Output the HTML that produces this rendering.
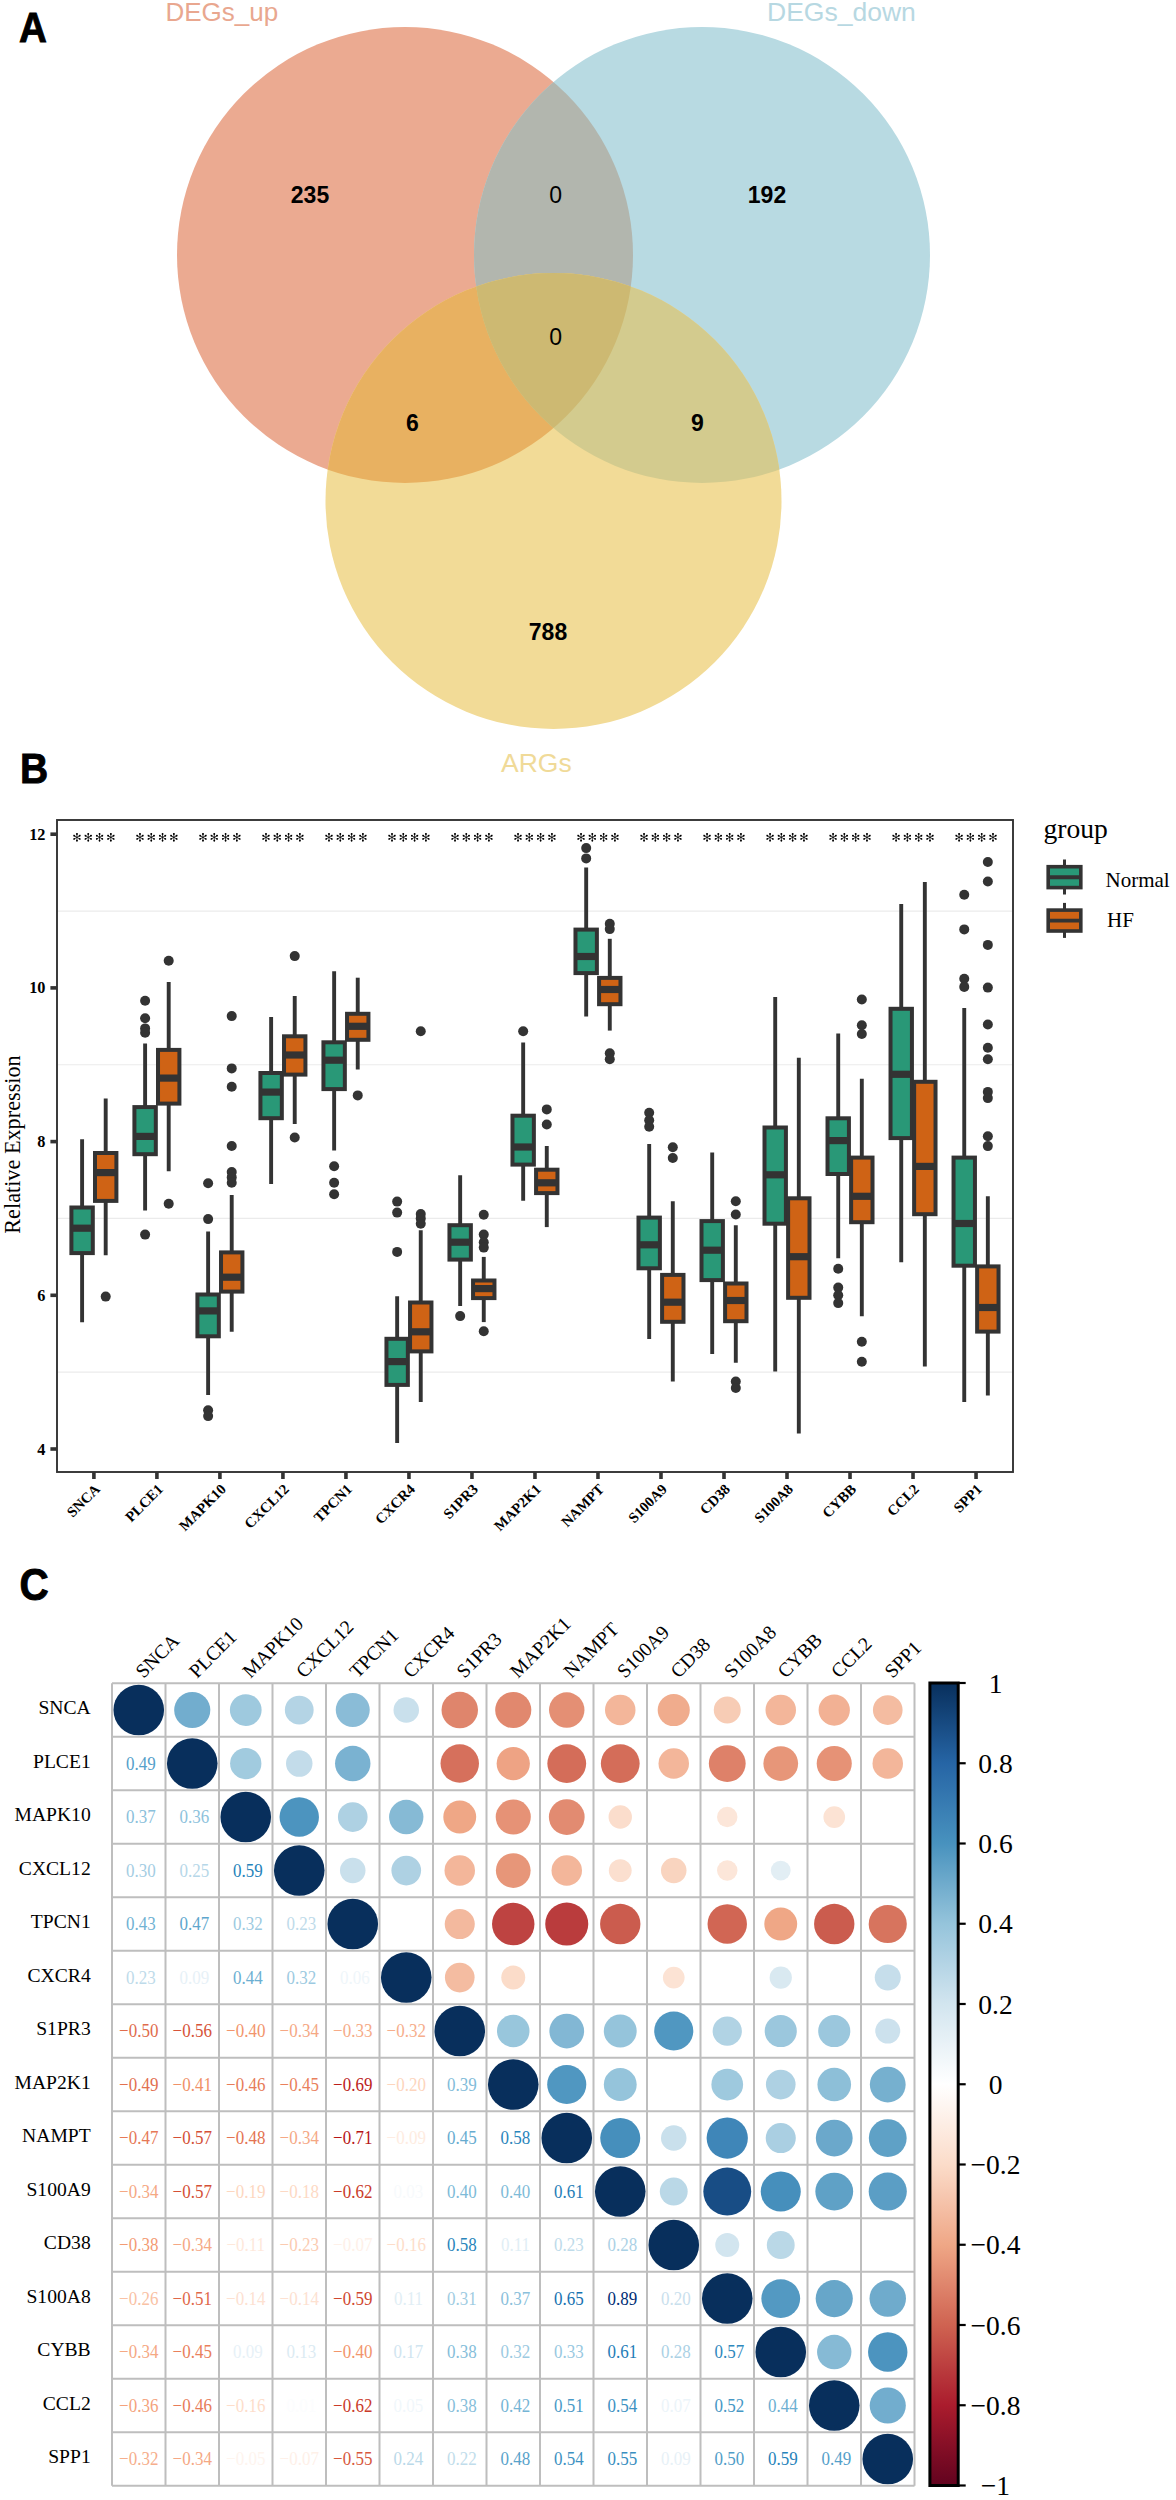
<!DOCTYPE html>
<html><head><meta charset="utf-8"><style>html,body{margin:0;padding:0;background:#fff;}svg{display:block}</style></head>
<body><svg width="1176" height="2500" viewBox="0 0 1176 2500">
<rect width="1176" height="2500" fill="#fff"/>
<text transform="translate(19.0,42.4) scale(0.92,1)" font-family='"Liberation Sans", sans-serif' font-weight="bold" font-size="42" fill="#000" stroke="#000" stroke-width="0.9">A</text>
<defs><clipPath id="cS"><circle cx="405" cy="255" r="228"/></clipPath><clipPath id="cB"><circle cx="702" cy="255" r="228"/></clipPath></defs>
<circle cx="405" cy="255" r="228" fill="#EBAA91"/>
<circle cx="702" cy="255" r="228" fill="#B8DAE2"/>
<g clip-path="url(#cS)"><circle cx="702" cy="255" r="228" fill="#B2B6AE"/></g>
<circle cx="553.5" cy="501" r="228" fill="#F2DB97"/>
<g clip-path="url(#cS)"><circle cx="553.5" cy="501" r="228" fill="#E8B161"/></g>
<g clip-path="url(#cB)"><circle cx="553.5" cy="501" r="228" fill="#D3CB8E"/></g>
<g clip-path="url(#cS)"><g clip-path="url(#cB)"><circle cx="553.5" cy="501" r="228" fill="#CDB972"/></g></g>
<text x="165.5" y="21" font-family='"Liberation Sans", sans-serif' font-size="26" fill="#E9A78F">DEGs_up</text>
<text x="767" y="21.4" font-family='"Liberation Sans", sans-serif' font-size="26.5" fill="#B7D8E2">DEGs_down</text>
<text x="501" y="771.9" font-family='"Liberation Sans", sans-serif' font-size="26.5" fill="#F0DA98">ARGs</text>
<text x="310" y="203" text-anchor="middle" font-family='"Liberation Sans", sans-serif' font-weight="bold" font-size="23" fill="#000">235</text>
<text x="767" y="203" text-anchor="middle" font-family='"Liberation Sans", sans-serif' font-weight="bold" font-size="23" fill="#000">192</text>
<text x="555.6" y="202.8" text-anchor="middle" font-family='"Liberation Sans", sans-serif' font-weight="normal" font-size="23" fill="#000">0</text>
<text x="555.6" y="345.3" text-anchor="middle" font-family='"Liberation Sans", sans-serif' font-weight="normal" font-size="23" fill="#000">0</text>
<text x="412.5" y="431" text-anchor="middle" font-family='"Liberation Sans", sans-serif' font-weight="bold" font-size="23" fill="#000">6</text>
<text x="697.5" y="431" text-anchor="middle" font-family='"Liberation Sans", sans-serif' font-weight="bold" font-size="23" fill="#000">9</text>
<text x="548" y="640" text-anchor="middle" font-family='"Liberation Sans", sans-serif' font-weight="bold" font-size="23" fill="#000">788</text>
<text transform="translate(20.0,782.6) scale(0.93,1)" font-family='"Liberation Sans", sans-serif' font-weight="bold" font-size="42" fill="#000" stroke="#000" stroke-width="0.9">B</text>
<rect x="57" y="820" width="956" height="652" fill="#fff"/>
<line x1="57" x2="1013" y1="911.05" y2="911.05" stroke="#EBEBEB" stroke-width="1.2"/>
<line x1="57" x2="1013" y1="1064.75" y2="1064.75" stroke="#EBEBEB" stroke-width="1.2"/>
<line x1="57" x2="1013" y1="1218.45" y2="1218.45" stroke="#EBEBEB" stroke-width="1.2"/>
<line x1="57" x2="1013" y1="1372.15" y2="1372.15" stroke="#EBEBEB" stroke-width="1.2"/>
<line x1="82.10" x2="82.10" y1="1139.2" y2="1322.2" stroke="#333333" stroke-width="3.9"/>
<rect x="71.40" y="1207.50" width="21.4" height="45.60" fill="#299877" stroke="#333333" stroke-width="4.0"/>
<line x1="71.40" x2="92.80" y1="1228.2" y2="1228.2" stroke="#333333" stroke-width="7.2"/>
<line x1="105.70" x2="105.70" y1="1098.4" y2="1255.2" stroke="#333333" stroke-width="3.9"/>
<rect x="95.00" y="1153.00" width="21.4" height="47.90" fill="#CF6315" stroke="#333333" stroke-width="4.0"/>
<line x1="95.00" x2="116.40" y1="1172.6" y2="1172.6" stroke="#333333" stroke-width="7.2"/>
<circle cx="105.70" cy="1296.6" r="5" fill="#333333"/>
<g transform="translate(76.95,837.3)" fill="#000"><path d="M-0.00 4.30L0.00 -4.30M-3.55 2.05L3.55 -2.05M3.55 2.05L-3.55 -2.05" stroke="#000" stroke-width="0.75" fill="none"/><circle cx="0.00" cy="-3.30" r="0.95"/><circle cx="-0.00" cy="3.30" r="0.95"/><circle cx="2.68" cy="-1.55" r="0.95"/><circle cx="-2.68" cy="1.55" r="0.95"/><circle cx="-2.68" cy="-1.55" r="0.95"/><circle cx="2.68" cy="1.55" r="0.95"/></g>
<g transform="translate(88.25,837.3)" fill="#000"><path d="M-0.00 4.30L0.00 -4.30M-3.55 2.05L3.55 -2.05M3.55 2.05L-3.55 -2.05" stroke="#000" stroke-width="0.75" fill="none"/><circle cx="0.00" cy="-3.30" r="0.95"/><circle cx="-0.00" cy="3.30" r="0.95"/><circle cx="2.68" cy="-1.55" r="0.95"/><circle cx="-2.68" cy="1.55" r="0.95"/><circle cx="-2.68" cy="-1.55" r="0.95"/><circle cx="2.68" cy="1.55" r="0.95"/></g>
<g transform="translate(99.55,837.3)" fill="#000"><path d="M-0.00 4.30L0.00 -4.30M-3.55 2.05L3.55 -2.05M3.55 2.05L-3.55 -2.05" stroke="#000" stroke-width="0.75" fill="none"/><circle cx="0.00" cy="-3.30" r="0.95"/><circle cx="-0.00" cy="3.30" r="0.95"/><circle cx="2.68" cy="-1.55" r="0.95"/><circle cx="-2.68" cy="1.55" r="0.95"/><circle cx="-2.68" cy="-1.55" r="0.95"/><circle cx="2.68" cy="1.55" r="0.95"/></g>
<g transform="translate(110.85,837.3)" fill="#000"><path d="M-0.00 4.30L0.00 -4.30M-3.55 2.05L3.55 -2.05M3.55 2.05L-3.55 -2.05" stroke="#000" stroke-width="0.75" fill="none"/><circle cx="0.00" cy="-3.30" r="0.95"/><circle cx="-0.00" cy="3.30" r="0.95"/><circle cx="2.68" cy="-1.55" r="0.95"/><circle cx="-2.68" cy="1.55" r="0.95"/><circle cx="-2.68" cy="-1.55" r="0.95"/><circle cx="2.68" cy="1.55" r="0.95"/></g>
<line x1="145.11" x2="145.11" y1="1043.5" y2="1210.4" stroke="#333333" stroke-width="3.9"/>
<rect x="134.41" y="1107.10" width="21.4" height="47.10" fill="#299877" stroke="#333333" stroke-width="4.0"/>
<line x1="134.41" x2="155.81" y1="1136.4" y2="1136.4" stroke="#333333" stroke-width="7.2"/>
<circle cx="145.11" cy="1000.8" r="5" fill="#333333"/>
<circle cx="145.11" cy="1018.3" r="5" fill="#333333"/>
<circle cx="145.11" cy="1028.4" r="5" fill="#333333"/>
<circle cx="145.11" cy="1032.7" r="5" fill="#333333"/>
<circle cx="145.11" cy="1234.6" r="5" fill="#333333"/>
<line x1="168.71" x2="168.71" y1="982" y2="1171.3" stroke="#333333" stroke-width="3.9"/>
<rect x="158.01" y="1049.90" width="21.4" height="53.70" fill="#CF6315" stroke="#333333" stroke-width="4.0"/>
<line x1="158.01" x2="179.41" y1="1078.1" y2="1078.1" stroke="#333333" stroke-width="7.2"/>
<circle cx="168.71" cy="960.8" r="5" fill="#333333"/>
<circle cx="168.71" cy="1203.7" r="5" fill="#333333"/>
<g transform="translate(139.96,837.3)" fill="#000"><path d="M-0.00 4.30L0.00 -4.30M-3.55 2.05L3.55 -2.05M3.55 2.05L-3.55 -2.05" stroke="#000" stroke-width="0.75" fill="none"/><circle cx="0.00" cy="-3.30" r="0.95"/><circle cx="-0.00" cy="3.30" r="0.95"/><circle cx="2.68" cy="-1.55" r="0.95"/><circle cx="-2.68" cy="1.55" r="0.95"/><circle cx="-2.68" cy="-1.55" r="0.95"/><circle cx="2.68" cy="1.55" r="0.95"/></g>
<g transform="translate(151.26,837.3)" fill="#000"><path d="M-0.00 4.30L0.00 -4.30M-3.55 2.05L3.55 -2.05M3.55 2.05L-3.55 -2.05" stroke="#000" stroke-width="0.75" fill="none"/><circle cx="0.00" cy="-3.30" r="0.95"/><circle cx="-0.00" cy="3.30" r="0.95"/><circle cx="2.68" cy="-1.55" r="0.95"/><circle cx="-2.68" cy="1.55" r="0.95"/><circle cx="-2.68" cy="-1.55" r="0.95"/><circle cx="2.68" cy="1.55" r="0.95"/></g>
<g transform="translate(162.56,837.3)" fill="#000"><path d="M-0.00 4.30L0.00 -4.30M-3.55 2.05L3.55 -2.05M3.55 2.05L-3.55 -2.05" stroke="#000" stroke-width="0.75" fill="none"/><circle cx="0.00" cy="-3.30" r="0.95"/><circle cx="-0.00" cy="3.30" r="0.95"/><circle cx="2.68" cy="-1.55" r="0.95"/><circle cx="-2.68" cy="1.55" r="0.95"/><circle cx="-2.68" cy="-1.55" r="0.95"/><circle cx="2.68" cy="1.55" r="0.95"/></g>
<g transform="translate(173.86,837.3)" fill="#000"><path d="M-0.00 4.30L0.00 -4.30M-3.55 2.05L3.55 -2.05M3.55 2.05L-3.55 -2.05" stroke="#000" stroke-width="0.75" fill="none"/><circle cx="0.00" cy="-3.30" r="0.95"/><circle cx="-0.00" cy="3.30" r="0.95"/><circle cx="2.68" cy="-1.55" r="0.95"/><circle cx="-2.68" cy="1.55" r="0.95"/><circle cx="-2.68" cy="-1.55" r="0.95"/><circle cx="2.68" cy="1.55" r="0.95"/></g>
<line x1="208.12" x2="208.12" y1="1231.4" y2="1394.9" stroke="#333333" stroke-width="3.9"/>
<rect x="197.42" y="1294.50" width="21.4" height="41.80" fill="#299877" stroke="#333333" stroke-width="4.0"/>
<line x1="197.42" x2="218.82" y1="1310.9" y2="1310.9" stroke="#333333" stroke-width="7.2"/>
<circle cx="208.12" cy="1183.2" r="5" fill="#333333"/>
<circle cx="208.12" cy="1219.1" r="5" fill="#333333"/>
<circle cx="208.12" cy="1410.2" r="5" fill="#333333"/>
<circle cx="208.12" cy="1416.1" r="5" fill="#333333"/>
<line x1="231.72" x2="231.72" y1="1195.1" y2="1331.8" stroke="#333333" stroke-width="3.9"/>
<rect x="221.02" y="1252.40" width="21.4" height="39.20" fill="#CF6315" stroke="#333333" stroke-width="4.0"/>
<line x1="221.02" x2="242.42" y1="1277.2" y2="1277.2" stroke="#333333" stroke-width="7.2"/>
<circle cx="231.72" cy="1016.1" r="5" fill="#333333"/>
<circle cx="231.72" cy="1068.4" r="5" fill="#333333"/>
<circle cx="231.72" cy="1086.7" r="5" fill="#333333"/>
<circle cx="231.72" cy="1146" r="5" fill="#333333"/>
<circle cx="231.72" cy="1172" r="5" fill="#333333"/>
<circle cx="231.72" cy="1177.4" r="5" fill="#333333"/>
<circle cx="231.72" cy="1182.8" r="5" fill="#333333"/>
<g transform="translate(202.97,837.3)" fill="#000"><path d="M-0.00 4.30L0.00 -4.30M-3.55 2.05L3.55 -2.05M3.55 2.05L-3.55 -2.05" stroke="#000" stroke-width="0.75" fill="none"/><circle cx="0.00" cy="-3.30" r="0.95"/><circle cx="-0.00" cy="3.30" r="0.95"/><circle cx="2.68" cy="-1.55" r="0.95"/><circle cx="-2.68" cy="1.55" r="0.95"/><circle cx="-2.68" cy="-1.55" r="0.95"/><circle cx="2.68" cy="1.55" r="0.95"/></g>
<g transform="translate(214.27,837.3)" fill="#000"><path d="M-0.00 4.30L0.00 -4.30M-3.55 2.05L3.55 -2.05M3.55 2.05L-3.55 -2.05" stroke="#000" stroke-width="0.75" fill="none"/><circle cx="0.00" cy="-3.30" r="0.95"/><circle cx="-0.00" cy="3.30" r="0.95"/><circle cx="2.68" cy="-1.55" r="0.95"/><circle cx="-2.68" cy="1.55" r="0.95"/><circle cx="-2.68" cy="-1.55" r="0.95"/><circle cx="2.68" cy="1.55" r="0.95"/></g>
<g transform="translate(225.57,837.3)" fill="#000"><path d="M-0.00 4.30L0.00 -4.30M-3.55 2.05L3.55 -2.05M3.55 2.05L-3.55 -2.05" stroke="#000" stroke-width="0.75" fill="none"/><circle cx="0.00" cy="-3.30" r="0.95"/><circle cx="-0.00" cy="3.30" r="0.95"/><circle cx="2.68" cy="-1.55" r="0.95"/><circle cx="-2.68" cy="1.55" r="0.95"/><circle cx="-2.68" cy="-1.55" r="0.95"/><circle cx="2.68" cy="1.55" r="0.95"/></g>
<g transform="translate(236.87,837.3)" fill="#000"><path d="M-0.00 4.30L0.00 -4.30M-3.55 2.05L3.55 -2.05M3.55 2.05L-3.55 -2.05" stroke="#000" stroke-width="0.75" fill="none"/><circle cx="0.00" cy="-3.30" r="0.95"/><circle cx="-0.00" cy="3.30" r="0.95"/><circle cx="2.68" cy="-1.55" r="0.95"/><circle cx="-2.68" cy="1.55" r="0.95"/><circle cx="-2.68" cy="-1.55" r="0.95"/><circle cx="2.68" cy="1.55" r="0.95"/></g>
<line x1="271.13" x2="271.13" y1="1017" y2="1183.9" stroke="#333333" stroke-width="3.9"/>
<rect x="260.43" y="1073.00" width="21.4" height="45.20" fill="#299877" stroke="#333333" stroke-width="4.0"/>
<line x1="260.43" x2="281.83" y1="1092.1" y2="1092.1" stroke="#333333" stroke-width="7.2"/>
<line x1="294.73" x2="294.73" y1="996" y2="1124.1" stroke="#333333" stroke-width="3.9"/>
<rect x="284.03" y="1036.30" width="21.4" height="38.30" fill="#CF6315" stroke="#333333" stroke-width="4.0"/>
<line x1="284.03" x2="305.43" y1="1055" y2="1055" stroke="#333333" stroke-width="7.2"/>
<circle cx="294.73" cy="956.1" r="5" fill="#333333"/>
<circle cx="294.73" cy="1137.5" r="5" fill="#333333"/>
<g transform="translate(265.98,837.3)" fill="#000"><path d="M-0.00 4.30L0.00 -4.30M-3.55 2.05L3.55 -2.05M3.55 2.05L-3.55 -2.05" stroke="#000" stroke-width="0.75" fill="none"/><circle cx="0.00" cy="-3.30" r="0.95"/><circle cx="-0.00" cy="3.30" r="0.95"/><circle cx="2.68" cy="-1.55" r="0.95"/><circle cx="-2.68" cy="1.55" r="0.95"/><circle cx="-2.68" cy="-1.55" r="0.95"/><circle cx="2.68" cy="1.55" r="0.95"/></g>
<g transform="translate(277.28,837.3)" fill="#000"><path d="M-0.00 4.30L0.00 -4.30M-3.55 2.05L3.55 -2.05M3.55 2.05L-3.55 -2.05" stroke="#000" stroke-width="0.75" fill="none"/><circle cx="0.00" cy="-3.30" r="0.95"/><circle cx="-0.00" cy="3.30" r="0.95"/><circle cx="2.68" cy="-1.55" r="0.95"/><circle cx="-2.68" cy="1.55" r="0.95"/><circle cx="-2.68" cy="-1.55" r="0.95"/><circle cx="2.68" cy="1.55" r="0.95"/></g>
<g transform="translate(288.58,837.3)" fill="#000"><path d="M-0.00 4.30L0.00 -4.30M-3.55 2.05L3.55 -2.05M3.55 2.05L-3.55 -2.05" stroke="#000" stroke-width="0.75" fill="none"/><circle cx="0.00" cy="-3.30" r="0.95"/><circle cx="-0.00" cy="3.30" r="0.95"/><circle cx="2.68" cy="-1.55" r="0.95"/><circle cx="-2.68" cy="1.55" r="0.95"/><circle cx="-2.68" cy="-1.55" r="0.95"/><circle cx="2.68" cy="1.55" r="0.95"/></g>
<g transform="translate(299.88,837.3)" fill="#000"><path d="M-0.00 4.30L0.00 -4.30M-3.55 2.05L3.55 -2.05M3.55 2.05L-3.55 -2.05" stroke="#000" stroke-width="0.75" fill="none"/><circle cx="0.00" cy="-3.30" r="0.95"/><circle cx="-0.00" cy="3.30" r="0.95"/><circle cx="2.68" cy="-1.55" r="0.95"/><circle cx="-2.68" cy="1.55" r="0.95"/><circle cx="-2.68" cy="-1.55" r="0.95"/><circle cx="2.68" cy="1.55" r="0.95"/></g>
<line x1="334.14" x2="334.14" y1="971.2" y2="1150.4" stroke="#333333" stroke-width="3.9"/>
<rect x="323.44" y="1042.30" width="21.4" height="46.80" fill="#299877" stroke="#333333" stroke-width="4.0"/>
<line x1="323.44" x2="344.84" y1="1060.2" y2="1060.2" stroke="#333333" stroke-width="7.2"/>
<circle cx="334.14" cy="1166.2" r="5" fill="#333333"/>
<circle cx="334.14" cy="1182.8" r="5" fill="#333333"/>
<circle cx="334.14" cy="1194.2" r="5" fill="#333333"/>
<line x1="357.74" x2="357.74" y1="977.7" y2="1069.5" stroke="#333333" stroke-width="3.9"/>
<rect x="347.04" y="1013.80" width="21.4" height="26.00" fill="#CF6315" stroke="#333333" stroke-width="4.0"/>
<line x1="347.04" x2="368.44" y1="1026.3" y2="1026.3" stroke="#333333" stroke-width="7.2"/>
<circle cx="357.74" cy="1095.4" r="5" fill="#333333"/>
<g transform="translate(328.99,837.3)" fill="#000"><path d="M-0.00 4.30L0.00 -4.30M-3.55 2.05L3.55 -2.05M3.55 2.05L-3.55 -2.05" stroke="#000" stroke-width="0.75" fill="none"/><circle cx="0.00" cy="-3.30" r="0.95"/><circle cx="-0.00" cy="3.30" r="0.95"/><circle cx="2.68" cy="-1.55" r="0.95"/><circle cx="-2.68" cy="1.55" r="0.95"/><circle cx="-2.68" cy="-1.55" r="0.95"/><circle cx="2.68" cy="1.55" r="0.95"/></g>
<g transform="translate(340.29,837.3)" fill="#000"><path d="M-0.00 4.30L0.00 -4.30M-3.55 2.05L3.55 -2.05M3.55 2.05L-3.55 -2.05" stroke="#000" stroke-width="0.75" fill="none"/><circle cx="0.00" cy="-3.30" r="0.95"/><circle cx="-0.00" cy="3.30" r="0.95"/><circle cx="2.68" cy="-1.55" r="0.95"/><circle cx="-2.68" cy="1.55" r="0.95"/><circle cx="-2.68" cy="-1.55" r="0.95"/><circle cx="2.68" cy="1.55" r="0.95"/></g>
<g transform="translate(351.59,837.3)" fill="#000"><path d="M-0.00 4.30L0.00 -4.30M-3.55 2.05L3.55 -2.05M3.55 2.05L-3.55 -2.05" stroke="#000" stroke-width="0.75" fill="none"/><circle cx="0.00" cy="-3.30" r="0.95"/><circle cx="-0.00" cy="3.30" r="0.95"/><circle cx="2.68" cy="-1.55" r="0.95"/><circle cx="-2.68" cy="1.55" r="0.95"/><circle cx="-2.68" cy="-1.55" r="0.95"/><circle cx="2.68" cy="1.55" r="0.95"/></g>
<g transform="translate(362.89,837.3)" fill="#000"><path d="M-0.00 4.30L0.00 -4.30M-3.55 2.05L3.55 -2.05M3.55 2.05L-3.55 -2.05" stroke="#000" stroke-width="0.75" fill="none"/><circle cx="0.00" cy="-3.30" r="0.95"/><circle cx="-0.00" cy="3.30" r="0.95"/><circle cx="2.68" cy="-1.55" r="0.95"/><circle cx="-2.68" cy="1.55" r="0.95"/><circle cx="-2.68" cy="-1.55" r="0.95"/><circle cx="2.68" cy="1.55" r="0.95"/></g>
<line x1="397.15" x2="397.15" y1="1296.2" y2="1443.1" stroke="#333333" stroke-width="3.9"/>
<rect x="386.45" y="1338.80" width="21.4" height="46.10" fill="#299877" stroke="#333333" stroke-width="4.0"/>
<line x1="386.45" x2="407.85" y1="1361.6" y2="1361.6" stroke="#333333" stroke-width="7.2"/>
<circle cx="397.15" cy="1201.6" r="5" fill="#333333"/>
<circle cx="397.15" cy="1212.6" r="5" fill="#333333"/>
<circle cx="397.15" cy="1251.9" r="5" fill="#333333"/>
<line x1="420.75" x2="420.75" y1="1230.3" y2="1402" stroke="#333333" stroke-width="3.9"/>
<rect x="410.05" y="1302.50" width="21.4" height="48.90" fill="#CF6315" stroke="#333333" stroke-width="4.0"/>
<line x1="410.05" x2="431.45" y1="1331.8" y2="1331.8" stroke="#333333" stroke-width="7.2"/>
<circle cx="420.75" cy="1031.2" r="5" fill="#333333"/>
<circle cx="420.75" cy="1214.1" r="5" fill="#333333"/>
<circle cx="420.75" cy="1218.4" r="5" fill="#333333"/>
<circle cx="420.75" cy="1223.8" r="5" fill="#333333"/>
<g transform="translate(392.00,837.3)" fill="#000"><path d="M-0.00 4.30L0.00 -4.30M-3.55 2.05L3.55 -2.05M3.55 2.05L-3.55 -2.05" stroke="#000" stroke-width="0.75" fill="none"/><circle cx="0.00" cy="-3.30" r="0.95"/><circle cx="-0.00" cy="3.30" r="0.95"/><circle cx="2.68" cy="-1.55" r="0.95"/><circle cx="-2.68" cy="1.55" r="0.95"/><circle cx="-2.68" cy="-1.55" r="0.95"/><circle cx="2.68" cy="1.55" r="0.95"/></g>
<g transform="translate(403.30,837.3)" fill="#000"><path d="M-0.00 4.30L0.00 -4.30M-3.55 2.05L3.55 -2.05M3.55 2.05L-3.55 -2.05" stroke="#000" stroke-width="0.75" fill="none"/><circle cx="0.00" cy="-3.30" r="0.95"/><circle cx="-0.00" cy="3.30" r="0.95"/><circle cx="2.68" cy="-1.55" r="0.95"/><circle cx="-2.68" cy="1.55" r="0.95"/><circle cx="-2.68" cy="-1.55" r="0.95"/><circle cx="2.68" cy="1.55" r="0.95"/></g>
<g transform="translate(414.60,837.3)" fill="#000"><path d="M-0.00 4.30L0.00 -4.30M-3.55 2.05L3.55 -2.05M3.55 2.05L-3.55 -2.05" stroke="#000" stroke-width="0.75" fill="none"/><circle cx="0.00" cy="-3.30" r="0.95"/><circle cx="-0.00" cy="3.30" r="0.95"/><circle cx="2.68" cy="-1.55" r="0.95"/><circle cx="-2.68" cy="1.55" r="0.95"/><circle cx="-2.68" cy="-1.55" r="0.95"/><circle cx="2.68" cy="1.55" r="0.95"/></g>
<g transform="translate(425.90,837.3)" fill="#000"><path d="M-0.00 4.30L0.00 -4.30M-3.55 2.05L3.55 -2.05M3.55 2.05L-3.55 -2.05" stroke="#000" stroke-width="0.75" fill="none"/><circle cx="0.00" cy="-3.30" r="0.95"/><circle cx="-0.00" cy="3.30" r="0.95"/><circle cx="2.68" cy="-1.55" r="0.95"/><circle cx="-2.68" cy="1.55" r="0.95"/><circle cx="-2.68" cy="-1.55" r="0.95"/><circle cx="2.68" cy="1.55" r="0.95"/></g>
<line x1="460.16" x2="460.16" y1="1175.2" y2="1305.9" stroke="#333333" stroke-width="3.9"/>
<rect x="449.46" y="1225.20" width="21.4" height="34.40" fill="#299877" stroke="#333333" stroke-width="4.0"/>
<line x1="449.46" x2="470.86" y1="1242.2" y2="1242.2" stroke="#333333" stroke-width="7.2"/>
<circle cx="460.16" cy="1316.1" r="5" fill="#333333"/>
<line x1="483.76" x2="483.76" y1="1256.9" y2="1322.1" stroke="#333333" stroke-width="3.9"/>
<rect x="473.06" y="1280.50" width="21.4" height="17.60" fill="#CF6315" stroke="#333333" stroke-width="4.0"/>
<line x1="473.06" x2="494.46" y1="1288.6" y2="1288.6" stroke="#333333" stroke-width="7.2"/>
<circle cx="483.76" cy="1214.8" r="5" fill="#333333"/>
<circle cx="483.76" cy="1234.6" r="5" fill="#333333"/>
<circle cx="483.76" cy="1242.2" r="5" fill="#333333"/>
<circle cx="483.76" cy="1247.6" r="5" fill="#333333"/>
<circle cx="483.76" cy="1331.2" r="5" fill="#333333"/>
<g transform="translate(455.01,837.3)" fill="#000"><path d="M-0.00 4.30L0.00 -4.30M-3.55 2.05L3.55 -2.05M3.55 2.05L-3.55 -2.05" stroke="#000" stroke-width="0.75" fill="none"/><circle cx="0.00" cy="-3.30" r="0.95"/><circle cx="-0.00" cy="3.30" r="0.95"/><circle cx="2.68" cy="-1.55" r="0.95"/><circle cx="-2.68" cy="1.55" r="0.95"/><circle cx="-2.68" cy="-1.55" r="0.95"/><circle cx="2.68" cy="1.55" r="0.95"/></g>
<g transform="translate(466.31,837.3)" fill="#000"><path d="M-0.00 4.30L0.00 -4.30M-3.55 2.05L3.55 -2.05M3.55 2.05L-3.55 -2.05" stroke="#000" stroke-width="0.75" fill="none"/><circle cx="0.00" cy="-3.30" r="0.95"/><circle cx="-0.00" cy="3.30" r="0.95"/><circle cx="2.68" cy="-1.55" r="0.95"/><circle cx="-2.68" cy="1.55" r="0.95"/><circle cx="-2.68" cy="-1.55" r="0.95"/><circle cx="2.68" cy="1.55" r="0.95"/></g>
<g transform="translate(477.61,837.3)" fill="#000"><path d="M-0.00 4.30L0.00 -4.30M-3.55 2.05L3.55 -2.05M3.55 2.05L-3.55 -2.05" stroke="#000" stroke-width="0.75" fill="none"/><circle cx="0.00" cy="-3.30" r="0.95"/><circle cx="-0.00" cy="3.30" r="0.95"/><circle cx="2.68" cy="-1.55" r="0.95"/><circle cx="-2.68" cy="1.55" r="0.95"/><circle cx="-2.68" cy="-1.55" r="0.95"/><circle cx="2.68" cy="1.55" r="0.95"/></g>
<g transform="translate(488.91,837.3)" fill="#000"><path d="M-0.00 4.30L0.00 -4.30M-3.55 2.05L3.55 -2.05M3.55 2.05L-3.55 -2.05" stroke="#000" stroke-width="0.75" fill="none"/><circle cx="0.00" cy="-3.30" r="0.95"/><circle cx="-0.00" cy="3.30" r="0.95"/><circle cx="2.68" cy="-1.55" r="0.95"/><circle cx="-2.68" cy="1.55" r="0.95"/><circle cx="-2.68" cy="-1.55" r="0.95"/><circle cx="2.68" cy="1.55" r="0.95"/></g>
<line x1="523.17" x2="523.17" y1="1042.5" y2="1200.7" stroke="#333333" stroke-width="3.9"/>
<rect x="512.47" y="1115.70" width="21.4" height="48.90" fill="#299877" stroke="#333333" stroke-width="4.0"/>
<line x1="512.47" x2="533.87" y1="1147" y2="1147" stroke="#333333" stroke-width="7.2"/>
<circle cx="523.17" cy="1031.2" r="5" fill="#333333"/>
<line x1="546.77" x2="546.77" y1="1146" y2="1227.1" stroke="#333333" stroke-width="3.9"/>
<rect x="536.07" y="1169.70" width="21.4" height="23.40" fill="#CF6315" stroke="#333333" stroke-width="4.0"/>
<line x1="536.07" x2="557.47" y1="1182.8" y2="1182.8" stroke="#333333" stroke-width="7.2"/>
<circle cx="546.77" cy="1109.4" r="5" fill="#333333"/>
<circle cx="546.77" cy="1124.5" r="5" fill="#333333"/>
<g transform="translate(518.02,837.3)" fill="#000"><path d="M-0.00 4.30L0.00 -4.30M-3.55 2.05L3.55 -2.05M3.55 2.05L-3.55 -2.05" stroke="#000" stroke-width="0.75" fill="none"/><circle cx="0.00" cy="-3.30" r="0.95"/><circle cx="-0.00" cy="3.30" r="0.95"/><circle cx="2.68" cy="-1.55" r="0.95"/><circle cx="-2.68" cy="1.55" r="0.95"/><circle cx="-2.68" cy="-1.55" r="0.95"/><circle cx="2.68" cy="1.55" r="0.95"/></g>
<g transform="translate(529.32,837.3)" fill="#000"><path d="M-0.00 4.30L0.00 -4.30M-3.55 2.05L3.55 -2.05M3.55 2.05L-3.55 -2.05" stroke="#000" stroke-width="0.75" fill="none"/><circle cx="0.00" cy="-3.30" r="0.95"/><circle cx="-0.00" cy="3.30" r="0.95"/><circle cx="2.68" cy="-1.55" r="0.95"/><circle cx="-2.68" cy="1.55" r="0.95"/><circle cx="-2.68" cy="-1.55" r="0.95"/><circle cx="2.68" cy="1.55" r="0.95"/></g>
<g transform="translate(540.62,837.3)" fill="#000"><path d="M-0.00 4.30L0.00 -4.30M-3.55 2.05L3.55 -2.05M3.55 2.05L-3.55 -2.05" stroke="#000" stroke-width="0.75" fill="none"/><circle cx="0.00" cy="-3.30" r="0.95"/><circle cx="-0.00" cy="3.30" r="0.95"/><circle cx="2.68" cy="-1.55" r="0.95"/><circle cx="-2.68" cy="1.55" r="0.95"/><circle cx="-2.68" cy="-1.55" r="0.95"/><circle cx="2.68" cy="1.55" r="0.95"/></g>
<g transform="translate(551.92,837.3)" fill="#000"><path d="M-0.00 4.30L0.00 -4.30M-3.55 2.05L3.55 -2.05M3.55 2.05L-3.55 -2.05" stroke="#000" stroke-width="0.75" fill="none"/><circle cx="0.00" cy="-3.30" r="0.95"/><circle cx="-0.00" cy="3.30" r="0.95"/><circle cx="2.68" cy="-1.55" r="0.95"/><circle cx="-2.68" cy="1.55" r="0.95"/><circle cx="-2.68" cy="-1.55" r="0.95"/><circle cx="2.68" cy="1.55" r="0.95"/></g>
<line x1="586.18" x2="586.18" y1="867.5" y2="1016.5" stroke="#333333" stroke-width="3.9"/>
<rect x="575.48" y="929.60" width="21.4" height="43.50" fill="#299877" stroke="#333333" stroke-width="4.0"/>
<line x1="575.48" x2="596.88" y1="956.5" y2="956.5" stroke="#333333" stroke-width="7.2"/>
<circle cx="586.18" cy="848.1" r="5" fill="#333333"/>
<circle cx="586.18" cy="858.4" r="5" fill="#333333"/>
<line x1="609.78" x2="609.78" y1="938.8" y2="1030.6" stroke="#333333" stroke-width="3.9"/>
<rect x="599.08" y="977.90" width="21.4" height="26.30" fill="#CF6315" stroke="#333333" stroke-width="4.0"/>
<line x1="599.08" x2="620.48" y1="989.5" y2="989.5" stroke="#333333" stroke-width="7.2"/>
<circle cx="609.78" cy="923.7" r="5" fill="#333333"/>
<circle cx="609.78" cy="929.1" r="5" fill="#333333"/>
<circle cx="609.78" cy="1053.3" r="5" fill="#333333"/>
<circle cx="609.78" cy="1059.3" r="5" fill="#333333"/>
<g transform="translate(581.03,837.3)" fill="#000"><path d="M-0.00 4.30L0.00 -4.30M-3.55 2.05L3.55 -2.05M3.55 2.05L-3.55 -2.05" stroke="#000" stroke-width="0.75" fill="none"/><circle cx="0.00" cy="-3.30" r="0.95"/><circle cx="-0.00" cy="3.30" r="0.95"/><circle cx="2.68" cy="-1.55" r="0.95"/><circle cx="-2.68" cy="1.55" r="0.95"/><circle cx="-2.68" cy="-1.55" r="0.95"/><circle cx="2.68" cy="1.55" r="0.95"/></g>
<g transform="translate(592.33,837.3)" fill="#000"><path d="M-0.00 4.30L0.00 -4.30M-3.55 2.05L3.55 -2.05M3.55 2.05L-3.55 -2.05" stroke="#000" stroke-width="0.75" fill="none"/><circle cx="0.00" cy="-3.30" r="0.95"/><circle cx="-0.00" cy="3.30" r="0.95"/><circle cx="2.68" cy="-1.55" r="0.95"/><circle cx="-2.68" cy="1.55" r="0.95"/><circle cx="-2.68" cy="-1.55" r="0.95"/><circle cx="2.68" cy="1.55" r="0.95"/></g>
<g transform="translate(603.63,837.3)" fill="#000"><path d="M-0.00 4.30L0.00 -4.30M-3.55 2.05L3.55 -2.05M3.55 2.05L-3.55 -2.05" stroke="#000" stroke-width="0.75" fill="none"/><circle cx="0.00" cy="-3.30" r="0.95"/><circle cx="-0.00" cy="3.30" r="0.95"/><circle cx="2.68" cy="-1.55" r="0.95"/><circle cx="-2.68" cy="1.55" r="0.95"/><circle cx="-2.68" cy="-1.55" r="0.95"/><circle cx="2.68" cy="1.55" r="0.95"/></g>
<g transform="translate(614.93,837.3)" fill="#000"><path d="M-0.00 4.30L0.00 -4.30M-3.55 2.05L3.55 -2.05M3.55 2.05L-3.55 -2.05" stroke="#000" stroke-width="0.75" fill="none"/><circle cx="0.00" cy="-3.30" r="0.95"/><circle cx="-0.00" cy="3.30" r="0.95"/><circle cx="2.68" cy="-1.55" r="0.95"/><circle cx="-2.68" cy="1.55" r="0.95"/><circle cx="-2.68" cy="-1.55" r="0.95"/><circle cx="2.68" cy="1.55" r="0.95"/></g>
<line x1="649.19" x2="649.19" y1="1144" y2="1339" stroke="#333333" stroke-width="3.9"/>
<rect x="638.49" y="1217.60" width="21.4" height="50.70" fill="#299877" stroke="#333333" stroke-width="4.0"/>
<line x1="638.49" x2="659.89" y1="1244.8" y2="1244.8" stroke="#333333" stroke-width="7.2"/>
<circle cx="649.19" cy="1112.7" r="5" fill="#333333"/>
<circle cx="649.19" cy="1120.2" r="5" fill="#333333"/>
<circle cx="649.19" cy="1126.7" r="5" fill="#333333"/>
<line x1="672.79" x2="672.79" y1="1201.2" y2="1381.5" stroke="#333333" stroke-width="3.9"/>
<rect x="662.09" y="1274.90" width="21.4" height="46.90" fill="#CF6315" stroke="#333333" stroke-width="4.0"/>
<line x1="662.09" x2="683.49" y1="1302.2" y2="1302.2" stroke="#333333" stroke-width="7.2"/>
<circle cx="672.79" cy="1147.2" r="5" fill="#333333"/>
<circle cx="672.79" cy="1158" r="5" fill="#333333"/>
<g transform="translate(644.04,837.3)" fill="#000"><path d="M-0.00 4.30L0.00 -4.30M-3.55 2.05L3.55 -2.05M3.55 2.05L-3.55 -2.05" stroke="#000" stroke-width="0.75" fill="none"/><circle cx="0.00" cy="-3.30" r="0.95"/><circle cx="-0.00" cy="3.30" r="0.95"/><circle cx="2.68" cy="-1.55" r="0.95"/><circle cx="-2.68" cy="1.55" r="0.95"/><circle cx="-2.68" cy="-1.55" r="0.95"/><circle cx="2.68" cy="1.55" r="0.95"/></g>
<g transform="translate(655.34,837.3)" fill="#000"><path d="M-0.00 4.30L0.00 -4.30M-3.55 2.05L3.55 -2.05M3.55 2.05L-3.55 -2.05" stroke="#000" stroke-width="0.75" fill="none"/><circle cx="0.00" cy="-3.30" r="0.95"/><circle cx="-0.00" cy="3.30" r="0.95"/><circle cx="2.68" cy="-1.55" r="0.95"/><circle cx="-2.68" cy="1.55" r="0.95"/><circle cx="-2.68" cy="-1.55" r="0.95"/><circle cx="2.68" cy="1.55" r="0.95"/></g>
<g transform="translate(666.64,837.3)" fill="#000"><path d="M-0.00 4.30L0.00 -4.30M-3.55 2.05L3.55 -2.05M3.55 2.05L-3.55 -2.05" stroke="#000" stroke-width="0.75" fill="none"/><circle cx="0.00" cy="-3.30" r="0.95"/><circle cx="-0.00" cy="3.30" r="0.95"/><circle cx="2.68" cy="-1.55" r="0.95"/><circle cx="-2.68" cy="1.55" r="0.95"/><circle cx="-2.68" cy="-1.55" r="0.95"/><circle cx="2.68" cy="1.55" r="0.95"/></g>
<g transform="translate(677.94,837.3)" fill="#000"><path d="M-0.00 4.30L0.00 -4.30M-3.55 2.05L3.55 -2.05M3.55 2.05L-3.55 -2.05" stroke="#000" stroke-width="0.75" fill="none"/><circle cx="0.00" cy="-3.30" r="0.95"/><circle cx="-0.00" cy="3.30" r="0.95"/><circle cx="2.68" cy="-1.55" r="0.95"/><circle cx="-2.68" cy="1.55" r="0.95"/><circle cx="-2.68" cy="-1.55" r="0.95"/><circle cx="2.68" cy="1.55" r="0.95"/></g>
<line x1="712.20" x2="712.20" y1="1152.6" y2="1354.1" stroke="#333333" stroke-width="3.9"/>
<rect x="701.50" y="1221.10" width="21.4" height="59.00" fill="#299877" stroke="#333333" stroke-width="4.0"/>
<line x1="701.50" x2="722.90" y1="1250.2" y2="1250.2" stroke="#333333" stroke-width="7.2"/>
<line x1="735.80" x2="735.80" y1="1225.3" y2="1362.7" stroke="#333333" stroke-width="3.9"/>
<rect x="725.10" y="1283.50" width="21.4" height="37.70" fill="#CF6315" stroke="#333333" stroke-width="4.0"/>
<line x1="725.10" x2="746.50" y1="1300.5" y2="1300.5" stroke="#333333" stroke-width="7.2"/>
<circle cx="735.80" cy="1201.2" r="5" fill="#333333"/>
<circle cx="735.80" cy="1214.5" r="5" fill="#333333"/>
<circle cx="735.80" cy="1381.5" r="5" fill="#333333"/>
<circle cx="735.80" cy="1388" r="5" fill="#333333"/>
<g transform="translate(707.05,837.3)" fill="#000"><path d="M-0.00 4.30L0.00 -4.30M-3.55 2.05L3.55 -2.05M3.55 2.05L-3.55 -2.05" stroke="#000" stroke-width="0.75" fill="none"/><circle cx="0.00" cy="-3.30" r="0.95"/><circle cx="-0.00" cy="3.30" r="0.95"/><circle cx="2.68" cy="-1.55" r="0.95"/><circle cx="-2.68" cy="1.55" r="0.95"/><circle cx="-2.68" cy="-1.55" r="0.95"/><circle cx="2.68" cy="1.55" r="0.95"/></g>
<g transform="translate(718.35,837.3)" fill="#000"><path d="M-0.00 4.30L0.00 -4.30M-3.55 2.05L3.55 -2.05M3.55 2.05L-3.55 -2.05" stroke="#000" stroke-width="0.75" fill="none"/><circle cx="0.00" cy="-3.30" r="0.95"/><circle cx="-0.00" cy="3.30" r="0.95"/><circle cx="2.68" cy="-1.55" r="0.95"/><circle cx="-2.68" cy="1.55" r="0.95"/><circle cx="-2.68" cy="-1.55" r="0.95"/><circle cx="2.68" cy="1.55" r="0.95"/></g>
<g transform="translate(729.65,837.3)" fill="#000"><path d="M-0.00 4.30L0.00 -4.30M-3.55 2.05L3.55 -2.05M3.55 2.05L-3.55 -2.05" stroke="#000" stroke-width="0.75" fill="none"/><circle cx="0.00" cy="-3.30" r="0.95"/><circle cx="-0.00" cy="3.30" r="0.95"/><circle cx="2.68" cy="-1.55" r="0.95"/><circle cx="-2.68" cy="1.55" r="0.95"/><circle cx="-2.68" cy="-1.55" r="0.95"/><circle cx="2.68" cy="1.55" r="0.95"/></g>
<g transform="translate(740.95,837.3)" fill="#000"><path d="M-0.00 4.30L0.00 -4.30M-3.55 2.05L3.55 -2.05M3.55 2.05L-3.55 -2.05" stroke="#000" stroke-width="0.75" fill="none"/><circle cx="0.00" cy="-3.30" r="0.95"/><circle cx="-0.00" cy="3.30" r="0.95"/><circle cx="2.68" cy="-1.55" r="0.95"/><circle cx="-2.68" cy="1.55" r="0.95"/><circle cx="-2.68" cy="-1.55" r="0.95"/><circle cx="2.68" cy="1.55" r="0.95"/></g>
<line x1="775.21" x2="775.21" y1="996.9" y2="1371.6" stroke="#333333" stroke-width="3.9"/>
<rect x="764.51" y="1127.50" width="21.4" height="96.20" fill="#299877" stroke="#333333" stroke-width="4.0"/>
<line x1="764.51" x2="785.91" y1="1174.8" y2="1174.8" stroke="#333333" stroke-width="7.2"/>
<line x1="798.81" x2="798.81" y1="1057.7" y2="1433.5" stroke="#333333" stroke-width="3.9"/>
<rect x="788.11" y="1198.30" width="21.4" height="99.50" fill="#CF6315" stroke="#333333" stroke-width="4.0"/>
<line x1="788.11" x2="809.51" y1="1256.7" y2="1256.7" stroke="#333333" stroke-width="7.2"/>
<g transform="translate(770.06,837.3)" fill="#000"><path d="M-0.00 4.30L0.00 -4.30M-3.55 2.05L3.55 -2.05M3.55 2.05L-3.55 -2.05" stroke="#000" stroke-width="0.75" fill="none"/><circle cx="0.00" cy="-3.30" r="0.95"/><circle cx="-0.00" cy="3.30" r="0.95"/><circle cx="2.68" cy="-1.55" r="0.95"/><circle cx="-2.68" cy="1.55" r="0.95"/><circle cx="-2.68" cy="-1.55" r="0.95"/><circle cx="2.68" cy="1.55" r="0.95"/></g>
<g transform="translate(781.36,837.3)" fill="#000"><path d="M-0.00 4.30L0.00 -4.30M-3.55 2.05L3.55 -2.05M3.55 2.05L-3.55 -2.05" stroke="#000" stroke-width="0.75" fill="none"/><circle cx="0.00" cy="-3.30" r="0.95"/><circle cx="-0.00" cy="3.30" r="0.95"/><circle cx="2.68" cy="-1.55" r="0.95"/><circle cx="-2.68" cy="1.55" r="0.95"/><circle cx="-2.68" cy="-1.55" r="0.95"/><circle cx="2.68" cy="1.55" r="0.95"/></g>
<g transform="translate(792.66,837.3)" fill="#000"><path d="M-0.00 4.30L0.00 -4.30M-3.55 2.05L3.55 -2.05M3.55 2.05L-3.55 -2.05" stroke="#000" stroke-width="0.75" fill="none"/><circle cx="0.00" cy="-3.30" r="0.95"/><circle cx="-0.00" cy="3.30" r="0.95"/><circle cx="2.68" cy="-1.55" r="0.95"/><circle cx="-2.68" cy="1.55" r="0.95"/><circle cx="-2.68" cy="-1.55" r="0.95"/><circle cx="2.68" cy="1.55" r="0.95"/></g>
<g transform="translate(803.96,837.3)" fill="#000"><path d="M-0.00 4.30L0.00 -4.30M-3.55 2.05L3.55 -2.05M3.55 2.05L-3.55 -2.05" stroke="#000" stroke-width="0.75" fill="none"/><circle cx="0.00" cy="-3.30" r="0.95"/><circle cx="-0.00" cy="3.30" r="0.95"/><circle cx="2.68" cy="-1.55" r="0.95"/><circle cx="-2.68" cy="1.55" r="0.95"/><circle cx="-2.68" cy="-1.55" r="0.95"/><circle cx="2.68" cy="1.55" r="0.95"/></g>
<line x1="838.22" x2="838.22" y1="1033.4" y2="1258.2" stroke="#333333" stroke-width="3.9"/>
<rect x="827.52" y="1118.30" width="21.4" height="55.70" fill="#299877" stroke="#333333" stroke-width="4.0"/>
<line x1="827.52" x2="848.92" y1="1140.6" y2="1140.6" stroke="#333333" stroke-width="7.2"/>
<circle cx="838.22" cy="1268.8" r="5" fill="#333333"/>
<circle cx="838.22" cy="1287.6" r="5" fill="#333333"/>
<circle cx="838.22" cy="1295.3" r="5" fill="#333333"/>
<circle cx="838.22" cy="1303.1" r="5" fill="#333333"/>
<line x1="861.82" x2="861.82" y1="1078.7" y2="1316.3" stroke="#333333" stroke-width="3.9"/>
<rect x="851.12" y="1157.60" width="21.4" height="64.60" fill="#CF6315" stroke="#333333" stroke-width="4.0"/>
<line x1="851.12" x2="872.52" y1="1196.3" y2="1196.3" stroke="#333333" stroke-width="7.2"/>
<circle cx="861.82" cy="999.5" r="5" fill="#333333"/>
<circle cx="861.82" cy="1025.2" r="5" fill="#333333"/>
<circle cx="861.82" cy="1034" r="5" fill="#333333"/>
<circle cx="861.82" cy="1341.8" r="5" fill="#333333"/>
<circle cx="861.82" cy="1361.7" r="5" fill="#333333"/>
<g transform="translate(833.07,837.3)" fill="#000"><path d="M-0.00 4.30L0.00 -4.30M-3.55 2.05L3.55 -2.05M3.55 2.05L-3.55 -2.05" stroke="#000" stroke-width="0.75" fill="none"/><circle cx="0.00" cy="-3.30" r="0.95"/><circle cx="-0.00" cy="3.30" r="0.95"/><circle cx="2.68" cy="-1.55" r="0.95"/><circle cx="-2.68" cy="1.55" r="0.95"/><circle cx="-2.68" cy="-1.55" r="0.95"/><circle cx="2.68" cy="1.55" r="0.95"/></g>
<g transform="translate(844.37,837.3)" fill="#000"><path d="M-0.00 4.30L0.00 -4.30M-3.55 2.05L3.55 -2.05M3.55 2.05L-3.55 -2.05" stroke="#000" stroke-width="0.75" fill="none"/><circle cx="0.00" cy="-3.30" r="0.95"/><circle cx="-0.00" cy="3.30" r="0.95"/><circle cx="2.68" cy="-1.55" r="0.95"/><circle cx="-2.68" cy="1.55" r="0.95"/><circle cx="-2.68" cy="-1.55" r="0.95"/><circle cx="2.68" cy="1.55" r="0.95"/></g>
<g transform="translate(855.67,837.3)" fill="#000"><path d="M-0.00 4.30L0.00 -4.30M-3.55 2.05L3.55 -2.05M3.55 2.05L-3.55 -2.05" stroke="#000" stroke-width="0.75" fill="none"/><circle cx="0.00" cy="-3.30" r="0.95"/><circle cx="-0.00" cy="3.30" r="0.95"/><circle cx="2.68" cy="-1.55" r="0.95"/><circle cx="-2.68" cy="1.55" r="0.95"/><circle cx="-2.68" cy="-1.55" r="0.95"/><circle cx="2.68" cy="1.55" r="0.95"/></g>
<g transform="translate(866.97,837.3)" fill="#000"><path d="M-0.00 4.30L0.00 -4.30M-3.55 2.05L3.55 -2.05M3.55 2.05L-3.55 -2.05" stroke="#000" stroke-width="0.75" fill="none"/><circle cx="0.00" cy="-3.30" r="0.95"/><circle cx="-0.00" cy="3.30" r="0.95"/><circle cx="2.68" cy="-1.55" r="0.95"/><circle cx="-2.68" cy="1.55" r="0.95"/><circle cx="-2.68" cy="-1.55" r="0.95"/><circle cx="2.68" cy="1.55" r="0.95"/></g>
<line x1="901.23" x2="901.23" y1="904" y2="1262.2" stroke="#333333" stroke-width="3.9"/>
<rect x="890.53" y="1008.80" width="21.4" height="129.30" fill="#299877" stroke="#333333" stroke-width="4.0"/>
<line x1="890.53" x2="911.93" y1="1074.3" y2="1074.3" stroke="#333333" stroke-width="7.2"/>
<line x1="924.83" x2="924.83" y1="881.9" y2="1366.5" stroke="#333333" stroke-width="3.9"/>
<rect x="914.13" y="1081.80" width="21.4" height="132.40" fill="#CF6315" stroke="#333333" stroke-width="4.0"/>
<line x1="914.13" x2="935.53" y1="1166.4" y2="1166.4" stroke="#333333" stroke-width="7.2"/>
<g transform="translate(896.08,837.3)" fill="#000"><path d="M-0.00 4.30L0.00 -4.30M-3.55 2.05L3.55 -2.05M3.55 2.05L-3.55 -2.05" stroke="#000" stroke-width="0.75" fill="none"/><circle cx="0.00" cy="-3.30" r="0.95"/><circle cx="-0.00" cy="3.30" r="0.95"/><circle cx="2.68" cy="-1.55" r="0.95"/><circle cx="-2.68" cy="1.55" r="0.95"/><circle cx="-2.68" cy="-1.55" r="0.95"/><circle cx="2.68" cy="1.55" r="0.95"/></g>
<g transform="translate(907.38,837.3)" fill="#000"><path d="M-0.00 4.30L0.00 -4.30M-3.55 2.05L3.55 -2.05M3.55 2.05L-3.55 -2.05" stroke="#000" stroke-width="0.75" fill="none"/><circle cx="0.00" cy="-3.30" r="0.95"/><circle cx="-0.00" cy="3.30" r="0.95"/><circle cx="2.68" cy="-1.55" r="0.95"/><circle cx="-2.68" cy="1.55" r="0.95"/><circle cx="-2.68" cy="-1.55" r="0.95"/><circle cx="2.68" cy="1.55" r="0.95"/></g>
<g transform="translate(918.68,837.3)" fill="#000"><path d="M-0.00 4.30L0.00 -4.30M-3.55 2.05L3.55 -2.05M3.55 2.05L-3.55 -2.05" stroke="#000" stroke-width="0.75" fill="none"/><circle cx="0.00" cy="-3.30" r="0.95"/><circle cx="-0.00" cy="3.30" r="0.95"/><circle cx="2.68" cy="-1.55" r="0.95"/><circle cx="-2.68" cy="1.55" r="0.95"/><circle cx="-2.68" cy="-1.55" r="0.95"/><circle cx="2.68" cy="1.55" r="0.95"/></g>
<g transform="translate(929.98,837.3)" fill="#000"><path d="M-0.00 4.30L0.00 -4.30M-3.55 2.05L3.55 -2.05M3.55 2.05L-3.55 -2.05" stroke="#000" stroke-width="0.75" fill="none"/><circle cx="0.00" cy="-3.30" r="0.95"/><circle cx="-0.00" cy="3.30" r="0.95"/><circle cx="2.68" cy="-1.55" r="0.95"/><circle cx="-2.68" cy="1.55" r="0.95"/><circle cx="-2.68" cy="-1.55" r="0.95"/><circle cx="2.68" cy="1.55" r="0.95"/></g>
<line x1="964.24" x2="964.24" y1="1007.9" y2="1402.1" stroke="#333333" stroke-width="3.9"/>
<rect x="953.54" y="1157.60" width="21.4" height="108.10" fill="#299877" stroke="#333333" stroke-width="4.0"/>
<line x1="953.54" x2="974.94" y1="1223.5" y2="1223.5" stroke="#333333" stroke-width="7.2"/>
<circle cx="964.24" cy="894.7" r="5" fill="#333333"/>
<circle cx="964.24" cy="929.4" r="5" fill="#333333"/>
<circle cx="964.24" cy="978.7" r="5" fill="#333333"/>
<circle cx="964.24" cy="986.9" r="5" fill="#333333"/>
<line x1="987.84" x2="987.84" y1="1196.3" y2="1395.5" stroke="#333333" stroke-width="3.9"/>
<rect x="977.14" y="1266.40" width="21.4" height="65.20" fill="#CF6315" stroke="#333333" stroke-width="4.0"/>
<line x1="977.14" x2="998.54" y1="1307.5" y2="1307.5" stroke="#333333" stroke-width="7.2"/>
<circle cx="987.84" cy="862" r="5" fill="#333333"/>
<circle cx="987.84" cy="881.5" r="5" fill="#333333"/>
<circle cx="987.84" cy="944.9" r="5" fill="#333333"/>
<circle cx="987.84" cy="987.6" r="5" fill="#333333"/>
<circle cx="987.84" cy="1024.5" r="5" fill="#333333"/>
<circle cx="987.84" cy="1047.7" r="5" fill="#333333"/>
<circle cx="987.84" cy="1059.2" r="5" fill="#333333"/>
<circle cx="987.84" cy="1091.9" r="5" fill="#333333"/>
<circle cx="987.84" cy="1098.1" r="5" fill="#333333"/>
<circle cx="987.84" cy="1136.2" r="5" fill="#333333"/>
<circle cx="987.84" cy="1146.1" r="5" fill="#333333"/>
<g transform="translate(959.09,837.3)" fill="#000"><path d="M-0.00 4.30L0.00 -4.30M-3.55 2.05L3.55 -2.05M3.55 2.05L-3.55 -2.05" stroke="#000" stroke-width="0.75" fill="none"/><circle cx="0.00" cy="-3.30" r="0.95"/><circle cx="-0.00" cy="3.30" r="0.95"/><circle cx="2.68" cy="-1.55" r="0.95"/><circle cx="-2.68" cy="1.55" r="0.95"/><circle cx="-2.68" cy="-1.55" r="0.95"/><circle cx="2.68" cy="1.55" r="0.95"/></g>
<g transform="translate(970.39,837.3)" fill="#000"><path d="M-0.00 4.30L0.00 -4.30M-3.55 2.05L3.55 -2.05M3.55 2.05L-3.55 -2.05" stroke="#000" stroke-width="0.75" fill="none"/><circle cx="0.00" cy="-3.30" r="0.95"/><circle cx="-0.00" cy="3.30" r="0.95"/><circle cx="2.68" cy="-1.55" r="0.95"/><circle cx="-2.68" cy="1.55" r="0.95"/><circle cx="-2.68" cy="-1.55" r="0.95"/><circle cx="2.68" cy="1.55" r="0.95"/></g>
<g transform="translate(981.69,837.3)" fill="#000"><path d="M-0.00 4.30L0.00 -4.30M-3.55 2.05L3.55 -2.05M3.55 2.05L-3.55 -2.05" stroke="#000" stroke-width="0.75" fill="none"/><circle cx="0.00" cy="-3.30" r="0.95"/><circle cx="-0.00" cy="3.30" r="0.95"/><circle cx="2.68" cy="-1.55" r="0.95"/><circle cx="-2.68" cy="1.55" r="0.95"/><circle cx="-2.68" cy="-1.55" r="0.95"/><circle cx="2.68" cy="1.55" r="0.95"/></g>
<g transform="translate(992.99,837.3)" fill="#000"><path d="M-0.00 4.30L0.00 -4.30M-3.55 2.05L3.55 -2.05M3.55 2.05L-3.55 -2.05" stroke="#000" stroke-width="0.75" fill="none"/><circle cx="0.00" cy="-3.30" r="0.95"/><circle cx="-0.00" cy="3.30" r="0.95"/><circle cx="2.68" cy="-1.55" r="0.95"/><circle cx="-2.68" cy="1.55" r="0.95"/><circle cx="-2.68" cy="-1.55" r="0.95"/><circle cx="2.68" cy="1.55" r="0.95"/></g>
<rect x="57" y="820" width="956" height="652" fill="none" stroke="#333333" stroke-width="1.9"/>
<line x1="50.4" x2="57" y1="834.20" y2="834.20" stroke="#333333" stroke-width="3.6"/>
<text x="45.5" y="839.70" text-anchor="end" font-family='"Liberation Serif", serif' font-weight="bold" font-size="16.3" fill="#000">12</text>
<line x1="50.4" x2="57" y1="987.90" y2="987.90" stroke="#333333" stroke-width="3.6"/>
<text x="45.5" y="993.40" text-anchor="end" font-family='"Liberation Serif", serif' font-weight="bold" font-size="16.3" fill="#000">10</text>
<line x1="50.4" x2="57" y1="1141.60" y2="1141.60" stroke="#333333" stroke-width="3.6"/>
<text x="45.5" y="1147.10" text-anchor="end" font-family='"Liberation Serif", serif' font-weight="bold" font-size="16.3" fill="#000">8</text>
<line x1="50.4" x2="57" y1="1295.30" y2="1295.30" stroke="#333333" stroke-width="3.6"/>
<text x="45.5" y="1300.80" text-anchor="end" font-family='"Liberation Serif", serif' font-weight="bold" font-size="16.3" fill="#000">6</text>
<line x1="50.4" x2="57" y1="1449.00" y2="1449.00" stroke="#333333" stroke-width="3.6"/>
<text x="45.5" y="1454.50" text-anchor="end" font-family='"Liberation Serif", serif' font-weight="bold" font-size="16.3" fill="#000">4</text>
<line x1="93.90" x2="93.90" y1="1472" y2="1479" stroke="#333333" stroke-width="3.6"/>
<text transform="translate(100.90,1490) rotate(-45)" text-anchor="end" font-family='"Liberation Serif", serif' font-weight="bold" font-size="14.6" fill="#000">SNCA</text>
<line x1="156.91" x2="156.91" y1="1472" y2="1479" stroke="#333333" stroke-width="3.6"/>
<text transform="translate(163.91,1490) rotate(-45)" text-anchor="end" font-family='"Liberation Serif", serif' font-weight="bold" font-size="14.6" fill="#000">PLCE1</text>
<line x1="219.92" x2="219.92" y1="1472" y2="1479" stroke="#333333" stroke-width="3.6"/>
<text transform="translate(226.92,1490) rotate(-45)" text-anchor="end" font-family='"Liberation Serif", serif' font-weight="bold" font-size="14.6" fill="#000">MAPK10</text>
<line x1="282.93" x2="282.93" y1="1472" y2="1479" stroke="#333333" stroke-width="3.6"/>
<text transform="translate(289.93,1490) rotate(-45)" text-anchor="end" font-family='"Liberation Serif", serif' font-weight="bold" font-size="14.6" fill="#000">CXCL12</text>
<line x1="345.94" x2="345.94" y1="1472" y2="1479" stroke="#333333" stroke-width="3.6"/>
<text transform="translate(352.94,1490) rotate(-45)" text-anchor="end" font-family='"Liberation Serif", serif' font-weight="bold" font-size="14.6" fill="#000">TPCN1</text>
<line x1="408.95" x2="408.95" y1="1472" y2="1479" stroke="#333333" stroke-width="3.6"/>
<text transform="translate(415.95,1490) rotate(-45)" text-anchor="end" font-family='"Liberation Serif", serif' font-weight="bold" font-size="14.6" fill="#000">CXCR4</text>
<line x1="471.96" x2="471.96" y1="1472" y2="1479" stroke="#333333" stroke-width="3.6"/>
<text transform="translate(478.96,1490) rotate(-45)" text-anchor="end" font-family='"Liberation Serif", serif' font-weight="bold" font-size="14.6" fill="#000">S1PR3</text>
<line x1="534.97" x2="534.97" y1="1472" y2="1479" stroke="#333333" stroke-width="3.6"/>
<text transform="translate(541.97,1490) rotate(-45)" text-anchor="end" font-family='"Liberation Serif", serif' font-weight="bold" font-size="14.6" fill="#000">MAP2K1</text>
<line x1="597.98" x2="597.98" y1="1472" y2="1479" stroke="#333333" stroke-width="3.6"/>
<text transform="translate(604.98,1490) rotate(-45)" text-anchor="end" font-family='"Liberation Serif", serif' font-weight="bold" font-size="14.6" fill="#000">NAMPT</text>
<line x1="660.99" x2="660.99" y1="1472" y2="1479" stroke="#333333" stroke-width="3.6"/>
<text transform="translate(667.99,1490) rotate(-45)" text-anchor="end" font-family='"Liberation Serif", serif' font-weight="bold" font-size="14.6" fill="#000">S100A9</text>
<line x1="724.00" x2="724.00" y1="1472" y2="1479" stroke="#333333" stroke-width="3.6"/>
<text transform="translate(731.00,1490) rotate(-45)" text-anchor="end" font-family='"Liberation Serif", serif' font-weight="bold" font-size="14.6" fill="#000">CD38</text>
<line x1="787.01" x2="787.01" y1="1472" y2="1479" stroke="#333333" stroke-width="3.6"/>
<text transform="translate(794.01,1490) rotate(-45)" text-anchor="end" font-family='"Liberation Serif", serif' font-weight="bold" font-size="14.6" fill="#000">S100A8</text>
<line x1="850.02" x2="850.02" y1="1472" y2="1479" stroke="#333333" stroke-width="3.6"/>
<text transform="translate(857.02,1490) rotate(-45)" text-anchor="end" font-family='"Liberation Serif", serif' font-weight="bold" font-size="14.6" fill="#000">CYBB</text>
<line x1="913.03" x2="913.03" y1="1472" y2="1479" stroke="#333333" stroke-width="3.6"/>
<text transform="translate(920.03,1490) rotate(-45)" text-anchor="end" font-family='"Liberation Serif", serif' font-weight="bold" font-size="14.6" fill="#000">CCL2</text>
<line x1="976.04" x2="976.04" y1="1472" y2="1479" stroke="#333333" stroke-width="3.6"/>
<text transform="translate(983.04,1490) rotate(-45)" text-anchor="end" font-family='"Liberation Serif", serif' font-weight="bold" font-size="14.6" fill="#000">SPP1</text>
<text transform="translate(19.9,1144.5) rotate(-90)" text-anchor="middle" font-family='"Liberation Serif", serif' font-size="23.6" textLength="178.5" lengthAdjust="spacingAndGlyphs" fill="#000">Relative Expression</text>
<text x="1043.5" y="838.2" font-family='"Liberation Serif", serif' font-size="27.6" fill="#000">group</text>
<line x1="1064.5" x2="1064.5" y1="859.5" y2="894.5" stroke="#333333" stroke-width="3"/>
<rect x="1048.2" y="866.7" width="32.6" height="20.9" fill="#299877" stroke="#333333" stroke-width="3.6"/>
<line x1="1048.2" x2="1080.8" y1="877.2" y2="877.2" stroke="#333333" stroke-width="3.9"/>
<text x="1105.5" y="886.70" font-family='"Liberation Serif", serif' font-size="21" fill="#000">Normal</text>
<line x1="1064.5" x2="1064.5" y1="902.9" y2="937.9" stroke="#333333" stroke-width="3"/>
<rect x="1048.2" y="910.1" width="32.6" height="20.9" fill="#CF6315" stroke="#333333" stroke-width="3.6"/>
<line x1="1048.2" x2="1080.8" y1="920.6" y2="920.6" stroke="#333333" stroke-width="3.9"/>
<text x="1107.1" y="927.00" font-family='"Liberation Serif", serif' font-size="21" fill="#000">HF</text>
<text transform="translate(19.4,1600.0) scale(0.93,1)" font-family='"Liberation Sans", sans-serif' font-weight="bold" font-size="43.5" fill="#000" stroke="#000" stroke-width="0.9">C</text>
<circle cx="138.75" cy="1710.05" r="25.30" fill="#082F5C"/>
<circle cx="192.25" cy="1710.05" r="18.07" fill="#72ADCE"/>
<circle cx="245.75" cy="1710.05" r="15.86" fill="#9EC9DE"/>
<circle cx="299.25" cy="1710.05" r="14.40" fill="#B4D4E5"/>
<circle cx="352.75" cy="1710.05" r="17.00" fill="#8ABCD7"/>
<circle cx="406.25" cy="1710.05" r="12.76" fill="#C9E0EC"/>
<circle cx="459.75" cy="1710.05" r="18.24" fill="#DF856C"/>
<circle cx="513.25" cy="1710.05" r="18.07" fill="#E1886E"/>
<circle cx="566.75" cy="1710.05" r="17.72" fill="#E48F74"/>
<circle cx="620.25" cy="1710.05" r="15.25" fill="#F3B69A"/>
<circle cx="673.75" cy="1710.05" r="16.06" fill="#F0AC8D"/>
<circle cx="727.25" cy="1710.05" r="13.49" fill="#F7CCB5"/>
<circle cx="780.75" cy="1710.05" r="15.25" fill="#F3B69A"/>
<circle cx="834.25" cy="1710.05" r="15.66" fill="#F2B194"/>
<circle cx="887.75" cy="1710.05" r="14.83" fill="#F4BCA1"/>
<circle cx="192.25" cy="1763.55" r="25.30" fill="#082F5C"/>
<circle cx="245.75" cy="1763.55" r="15.66" fill="#A1CBDF"/>
<circle cx="299.25" cy="1763.55" r="13.25" fill="#C3DCEA"/>
<circle cx="352.75" cy="1763.55" r="17.72" fill="#7AB2D1"/>
<circle cx="459.75" cy="1763.55" r="19.23" fill="#D6705C"/>
<circle cx="513.25" cy="1763.55" r="16.63" fill="#EEA384"/>
<circle cx="566.75" cy="1763.55" r="19.40" fill="#D46D59"/>
<circle cx="620.25" cy="1763.55" r="19.40" fill="#D46D59"/>
<circle cx="673.75" cy="1763.55" r="15.25" fill="#F3B69A"/>
<circle cx="727.25" cy="1763.55" r="18.41" fill="#DE8169"/>
<circle cx="780.75" cy="1763.55" r="17.37" fill="#E79679"/>
<circle cx="834.25" cy="1763.55" r="17.55" fill="#E69276"/>
<circle cx="887.75" cy="1763.55" r="15.25" fill="#F3B69A"/>
<circle cx="245.75" cy="1817.05" r="25.30" fill="#082F5C"/>
<circle cx="299.25" cy="1817.05" r="19.71" fill="#4C94BF"/>
<circle cx="352.75" cy="1817.05" r="14.83" fill="#AED1E3"/>
<circle cx="406.25" cy="1817.05" r="17.19" fill="#86BAD5"/>
<circle cx="459.75" cy="1817.05" r="16.44" fill="#EFA786"/>
<circle cx="513.25" cy="1817.05" r="17.55" fill="#E69276"/>
<circle cx="566.75" cy="1817.05" r="17.90" fill="#E28B71"/>
<circle cx="620.25" cy="1817.05" r="11.70" fill="#FBDDCC"/>
<circle cx="727.25" cy="1817.05" r="10.22" fill="#FCE6D9"/>
<circle cx="834.25" cy="1817.05" r="10.84" fill="#FCE3D4"/>
<circle cx="299.25" cy="1870.55" r="25.30" fill="#082F5C"/>
<circle cx="352.75" cy="1870.55" r="12.76" fill="#C9E0EC"/>
<circle cx="406.25" cy="1870.55" r="14.83" fill="#AED1E3"/>
<circle cx="459.75" cy="1870.55" r="15.25" fill="#F3B69A"/>
<circle cx="513.25" cy="1870.55" r="17.37" fill="#E79679"/>
<circle cx="566.75" cy="1870.55" r="15.25" fill="#F3B69A"/>
<circle cx="620.25" cy="1870.55" r="11.42" fill="#FBDFCF"/>
<circle cx="673.75" cy="1870.55" r="12.76" fill="#F9D4BF"/>
<circle cx="727.25" cy="1870.55" r="10.22" fill="#FCE6D9"/>
<circle cx="780.75" cy="1870.55" r="9.89" fill="#E2EEF4"/>
<circle cx="352.75" cy="1924.05" r="25.30" fill="#082F5C"/>
<circle cx="459.75" cy="1924.05" r="15.04" fill="#F3B99E"/>
<circle cx="513.25" cy="1924.05" r="21.22" fill="#BE4341"/>
<circle cx="566.75" cy="1924.05" r="21.51" fill="#BA3C3D"/>
<circle cx="620.25" cy="1924.05" r="20.18" fill="#CB5C4E"/>
<circle cx="727.25" cy="1924.05" r="19.71" fill="#D16654"/>
<circle cx="780.75" cy="1924.05" r="16.44" fill="#EFA786"/>
<circle cx="834.25" cy="1924.05" r="20.18" fill="#CB5C4E"/>
<circle cx="887.75" cy="1924.05" r="19.07" fill="#D7745E"/>
<circle cx="406.25" cy="1977.55" r="25.30" fill="#082F5C"/>
<circle cx="459.75" cy="1977.55" r="14.83" fill="#F4BCA1"/>
<circle cx="513.25" cy="1977.55" r="11.98" fill="#FBDCC9"/>
<circle cx="673.75" cy="1977.55" r="10.84" fill="#FCE3D4"/>
<circle cx="780.75" cy="1977.55" r="11.14" fill="#D9E9F1"/>
<circle cx="887.75" cy="1977.55" r="13.01" fill="#C6DEEB"/>
<circle cx="459.75" cy="2031.05" r="25.30" fill="#082F5C"/>
<circle cx="513.25" cy="2031.05" r="16.25" fill="#98C6DC"/>
<circle cx="566.75" cy="2031.05" r="17.37" fill="#82B7D4"/>
<circle cx="620.25" cy="2031.05" r="16.44" fill="#95C4DB"/>
<circle cx="673.75" cy="2031.05" r="19.55" fill="#5097C1"/>
<circle cx="727.25" cy="2031.05" r="14.62" fill="#B1D3E4"/>
<circle cx="780.75" cy="2031.05" r="16.06" fill="#9BC7DD"/>
<circle cx="834.25" cy="2031.05" r="16.06" fill="#9BC7DD"/>
<circle cx="887.75" cy="2031.05" r="12.50" fill="#CCE1ED"/>
<circle cx="513.25" cy="2084.55" r="25.30" fill="#082F5C"/>
<circle cx="566.75" cy="2084.55" r="19.55" fill="#5097C1"/>
<circle cx="620.25" cy="2084.55" r="16.44" fill="#95C4DB"/>
<circle cx="727.25" cy="2084.55" r="15.86" fill="#9EC9DE"/>
<circle cx="780.75" cy="2084.55" r="14.83" fill="#AED1E3"/>
<circle cx="834.25" cy="2084.55" r="16.82" fill="#8DBFD8"/>
<circle cx="887.75" cy="2084.55" r="17.90" fill="#76B0CF"/>
<circle cx="566.75" cy="2138.05" r="25.30" fill="#082F5C"/>
<circle cx="620.25" cy="2138.05" r="20.02" fill="#468FBC"/>
<circle cx="673.75" cy="2138.05" r="12.76" fill="#C9E0EC"/>
<circle cx="727.25" cy="2138.05" r="20.63" fill="#3F86B8"/>
<circle cx="780.75" cy="2138.05" r="15.04" fill="#AACFE2"/>
<circle cx="834.25" cy="2138.05" r="18.41" fill="#6BA8CB"/>
<circle cx="887.75" cy="2138.05" r="18.91" fill="#5FA1C6"/>
<circle cx="620.25" cy="2191.55" r="25.30" fill="#082F5C"/>
<circle cx="673.75" cy="2191.55" r="13.95" fill="#BAD8E7"/>
<circle cx="727.25" cy="2191.55" r="23.94" fill="#184D85"/>
<circle cx="780.75" cy="2191.55" r="20.02" fill="#468FBC"/>
<circle cx="834.25" cy="2191.55" r="18.91" fill="#5FA1C6"/>
<circle cx="887.75" cy="2191.55" r="19.07" fill="#5B9EC5"/>
<circle cx="673.75" cy="2245.05" r="25.30" fill="#082F5C"/>
<circle cx="727.25" cy="2245.05" r="11.98" fill="#D2E5EF"/>
<circle cx="780.75" cy="2245.05" r="13.95" fill="#BAD8E7"/>
<circle cx="727.25" cy="2298.55" r="25.30" fill="#082F5C"/>
<circle cx="780.75" cy="2298.55" r="19.40" fill="#5399C2"/>
<circle cx="834.25" cy="2298.55" r="18.58" fill="#67A6C9"/>
<circle cx="887.75" cy="2298.55" r="18.24" fill="#6FABCC"/>
<circle cx="780.75" cy="2352.05" r="25.30" fill="#082F5C"/>
<circle cx="834.25" cy="2352.05" r="17.19" fill="#86BAD5"/>
<circle cx="887.75" cy="2352.05" r="19.71" fill="#4C94BF"/>
<circle cx="834.25" cy="2405.55" r="25.30" fill="#082F5C"/>
<circle cx="887.75" cy="2405.55" r="18.07" fill="#72ADCE"/>
<circle cx="887.75" cy="2459.05" r="25.30" fill="#082F5C"/>
<text transform="translate(140.95,1769.85) scale(1,1.12)" text-anchor="middle" font-family='"Liberation Serif", serif' font-size="17" fill="#54A0CA">0.49</text>
<text transform="translate(140.95,1823.35) scale(1,1.12)" text-anchor="middle" font-family='"Liberation Serif", serif' font-size="17" fill="#8AC0DB">0.37</text>
<text transform="translate(194.45,1823.35) scale(1,1.12)" text-anchor="middle" font-family='"Liberation Serif", serif' font-size="17" fill="#8DC2DC">0.36</text>
<text transform="translate(140.95,1876.85) scale(1,1.12)" text-anchor="middle" font-family='"Liberation Serif", serif' font-size="17" fill="#A4CDE3">0.30</text>
<text transform="translate(194.45,1876.85) scale(1,1.12)" text-anchor="middle" font-family='"Liberation Serif", serif' font-size="17" fill="#B6D7E8">0.25</text>
<text transform="translate(247.95,1876.85) scale(1,1.12)" text-anchor="middle" font-family='"Liberation Serif", serif' font-size="17" fill="#2683BA">0.59</text>
<text transform="translate(140.95,1930.35) scale(1,1.12)" text-anchor="middle" font-family='"Liberation Serif", serif' font-size="17" fill="#70B2D3">0.43</text>
<text transform="translate(194.45,1930.35) scale(1,1.12)" text-anchor="middle" font-family='"Liberation Serif", serif' font-size="17" fill="#5EA6CD">0.47</text>
<text transform="translate(247.95,1930.35) scale(1,1.12)" text-anchor="middle" font-family='"Liberation Serif", serif' font-size="17" fill="#9CCAE1">0.32</text>
<text transform="translate(301.45,1930.35) scale(1,1.12)" text-anchor="middle" font-family='"Liberation Serif", serif' font-size="17" fill="#BEDBEA">0.23</text>
<text transform="translate(140.95,1983.85) scale(1,1.12)" text-anchor="middle" font-family='"Liberation Serif", serif' font-size="17" fill="#BEDBEA">0.23</text>
<text transform="translate(194.45,1983.85) scale(1,1.12)" text-anchor="middle" font-family='"Liberation Serif", serif' font-size="17" fill="#E7F1F7">0.09</text>
<text transform="translate(247.95,1983.85) scale(1,1.12)" text-anchor="middle" font-family='"Liberation Serif", serif' font-size="17" fill="#6CAFD2">0.44</text>
<text transform="translate(301.45,1983.85) scale(1,1.12)" text-anchor="middle" font-family='"Liberation Serif", serif' font-size="17" fill="#9CCAE1">0.32</text>
<text transform="translate(354.95,1983.85) scale(1,1.12)" text-anchor="middle" font-family='"Liberation Serif", serif' font-size="17" fill="#EFF6FA">0.06</text>
<text transform="translate(138.75,2037.35) scale(1,1.12)" text-anchor="middle" font-family='"Liberation Serif", serif' font-size="17" fill="#E06C4C">−0.50</text>
<text transform="translate(192.25,2037.35) scale(1,1.12)" text-anchor="middle" font-family='"Liberation Serif", serif' font-size="17" fill="#D65439">−0.56</text>
<text transform="translate(245.75,2037.35) scale(1,1.12)" text-anchor="middle" font-family='"Liberation Serif", serif' font-size="17" fill="#F2956C">−0.40</text>
<text transform="translate(299.25,2037.35) scale(1,1.12)" text-anchor="middle" font-family='"Liberation Serif", serif' font-size="17" fill="#F5A884">−0.34</text>
<text transform="translate(352.75,2037.35) scale(1,1.12)" text-anchor="middle" font-family='"Liberation Serif", serif' font-size="17" fill="#F6AB88">−0.33</text>
<text transform="translate(406.25,2037.35) scale(1,1.12)" text-anchor="middle" font-family='"Liberation Serif", serif' font-size="17" fill="#F6AE8C">−0.32</text>
<text transform="translate(138.75,2090.85) scale(1,1.12)" text-anchor="middle" font-family='"Liberation Serif", serif' font-size="17" fill="#E2704F">−0.49</text>
<text transform="translate(192.25,2090.85) scale(1,1.12)" text-anchor="middle" font-family='"Liberation Serif", serif' font-size="17" fill="#F09168">−0.41</text>
<text transform="translate(245.75,2090.85) scale(1,1.12)" text-anchor="middle" font-family='"Liberation Serif", serif' font-size="17" fill="#E77C59">−0.46</text>
<text transform="translate(299.25,2090.85) scale(1,1.12)" text-anchor="middle" font-family='"Liberation Serif", serif' font-size="17" fill="#E9805C">−0.45</text>
<text transform="translate(352.75,2090.85) scale(1,1.12)" text-anchor="middle" font-family='"Liberation Serif", serif' font-size="17" fill="#BC1D1B">−0.69</text>
<text transform="translate(406.25,2090.85) scale(1,1.12)" text-anchor="middle" font-family='"Liberation Serif", serif' font-size="17" fill="#FDD5BD">−0.20</text>
<text transform="translate(461.95,2090.85) scale(1,1.12)" text-anchor="middle" font-family='"Liberation Serif", serif' font-size="17" fill="#82BCD9">0.39</text>
<text transform="translate(138.75,2144.35) scale(1,1.12)" text-anchor="middle" font-family='"Liberation Serif", serif' font-size="17" fill="#E67856">−0.47</text>
<text transform="translate(192.25,2144.35) scale(1,1.12)" text-anchor="middle" font-family='"Liberation Serif", serif' font-size="17" fill="#D45036">−0.57</text>
<text transform="translate(245.75,2144.35) scale(1,1.12)" text-anchor="middle" font-family='"Liberation Serif", serif' font-size="17" fill="#E47452">−0.48</text>
<text transform="translate(299.25,2144.35) scale(1,1.12)" text-anchor="middle" font-family='"Liberation Serif", serif' font-size="17" fill="#F5A884">−0.34</text>
<text transform="translate(352.75,2144.35) scale(1,1.12)" text-anchor="middle" font-family='"Liberation Serif", serif' font-size="17" fill="#B71517">−0.71</text>
<text transform="translate(406.25,2144.35) scale(1,1.12)" text-anchor="middle" font-family='"Liberation Serif", serif' font-size="17" fill="#FEECE1">−0.09</text>
<text transform="translate(461.95,2144.35) scale(1,1.12)" text-anchor="middle" font-family='"Liberation Serif", serif' font-size="17" fill="#67ACD0">0.45</text>
<text transform="translate(515.45,2144.35) scale(1,1.12)" text-anchor="middle" font-family='"Liberation Serif", serif' font-size="17" fill="#2A85BB">0.58</text>
<text transform="translate(138.75,2197.85) scale(1,1.12)" text-anchor="middle" font-family='"Liberation Serif", serif' font-size="17" fill="#F5A884">−0.34</text>
<text transform="translate(192.25,2197.85) scale(1,1.12)" text-anchor="middle" font-family='"Liberation Serif", serif' font-size="17" fill="#D45036">−0.57</text>
<text transform="translate(245.75,2197.85) scale(1,1.12)" text-anchor="middle" font-family='"Liberation Serif", serif' font-size="17" fill="#FDD7C0">−0.19</text>
<text transform="translate(299.25,2197.85) scale(1,1.12)" text-anchor="middle" font-family='"Liberation Serif", serif' font-size="17" fill="#FDD9C4">−0.18</text>
<text transform="translate(352.75,2197.85) scale(1,1.12)" text-anchor="middle" font-family='"Liberation Serif", serif' font-size="17" fill="#CA3B29">−0.62</text>
<text transform="translate(408.45,2197.85) scale(1,1.12)" text-anchor="middle" font-family='"Liberation Serif", serif' font-size="17" fill="#F7FAFC">0.03</text>
<text transform="translate(461.95,2197.85) scale(1,1.12)" text-anchor="middle" font-family='"Liberation Serif", serif' font-size="17" fill="#7EBBD8">0.40</text>
<text transform="translate(515.45,2197.85) scale(1,1.12)" text-anchor="middle" font-family='"Liberation Serif", serif' font-size="17" fill="#7EBBD8">0.40</text>
<text transform="translate(568.95,2197.85) scale(1,1.12)" text-anchor="middle" font-family='"Liberation Serif", serif' font-size="17" fill="#1F7DB7">0.61</text>
<text transform="translate(138.75,2251.35) scale(1,1.12)" text-anchor="middle" font-family='"Liberation Serif", serif' font-size="17" fill="#F39B74">−0.38</text>
<text transform="translate(192.25,2251.35) scale(1,1.12)" text-anchor="middle" font-family='"Liberation Serif", serif' font-size="17" fill="#F5A884">−0.34</text>
<text transform="translate(245.75,2251.35) scale(1,1.12)" text-anchor="middle" font-family='"Liberation Serif", serif' font-size="17" fill="#FEE8DB">−0.11</text>
<text transform="translate(299.25,2251.35) scale(1,1.12)" text-anchor="middle" font-family='"Liberation Serif", serif' font-size="17" fill="#FBCBB1">−0.23</text>
<text transform="translate(352.75,2251.35) scale(1,1.12)" text-anchor="middle" font-family='"Liberation Serif", serif' font-size="17" fill="#FEF0E8">−0.07</text>
<text transform="translate(406.25,2251.35) scale(1,1.12)" text-anchor="middle" font-family='"Liberation Serif", serif' font-size="17" fill="#FDDDCA">−0.16</text>
<text transform="translate(461.95,2251.35) scale(1,1.12)" text-anchor="middle" font-family='"Liberation Serif", serif' font-size="17" fill="#2A85BB">0.58</text>
<text transform="translate(515.45,2251.35) scale(1,1.12)" text-anchor="middle" font-family='"Liberation Serif", serif' font-size="17" fill="#E1EEF5">0.11</text>
<text transform="translate(568.95,2251.35) scale(1,1.12)" text-anchor="middle" font-family='"Liberation Serif", serif' font-size="17" fill="#BEDBEA">0.23</text>
<text transform="translate(622.45,2251.35) scale(1,1.12)" text-anchor="middle" font-family='"Liberation Serif", serif' font-size="17" fill="#ABD1E5">0.28</text>
<text transform="translate(138.75,2304.85) scale(1,1.12)" text-anchor="middle" font-family='"Liberation Serif", serif' font-size="17" fill="#F9C1A4">−0.26</text>
<text transform="translate(192.25,2304.85) scale(1,1.12)" text-anchor="middle" font-family='"Liberation Serif", serif' font-size="17" fill="#DF6849">−0.51</text>
<text transform="translate(245.75,2304.85) scale(1,1.12)" text-anchor="middle" font-family='"Liberation Serif", serif' font-size="17" fill="#FDE1D1">−0.14</text>
<text transform="translate(299.25,2304.85) scale(1,1.12)" text-anchor="middle" font-family='"Liberation Serif", serif' font-size="17" fill="#FDE1D1">−0.14</text>
<text transform="translate(352.75,2304.85) scale(1,1.12)" text-anchor="middle" font-family='"Liberation Serif", serif' font-size="17" fill="#D04730">−0.59</text>
<text transform="translate(408.45,2304.85) scale(1,1.12)" text-anchor="middle" font-family='"Liberation Serif", serif' font-size="17" fill="#E1EEF5">0.11</text>
<text transform="translate(461.95,2304.85) scale(1,1.12)" text-anchor="middle" font-family='"Liberation Serif", serif' font-size="17" fill="#A0CCE2">0.31</text>
<text transform="translate(515.45,2304.85) scale(1,1.12)" text-anchor="middle" font-family='"Liberation Serif", serif' font-size="17" fill="#8AC0DB">0.37</text>
<text transform="translate(568.95,2304.85) scale(1,1.12)" text-anchor="middle" font-family='"Liberation Serif", serif' font-size="17" fill="#1772B1">0.65</text>
<text transform="translate(622.45,2304.85) scale(1,1.12)" text-anchor="middle" font-family='"Liberation Serif", serif' font-size="17" fill="#002E75">0.89</text>
<text transform="translate(675.95,2304.85) scale(1,1.12)" text-anchor="middle" font-family='"Liberation Serif", serif' font-size="17" fill="#C9E0ED">0.20</text>
<text transform="translate(138.75,2358.35) scale(1,1.12)" text-anchor="middle" font-family='"Liberation Serif", serif' font-size="17" fill="#F5A884">−0.34</text>
<text transform="translate(192.25,2358.35) scale(1,1.12)" text-anchor="middle" font-family='"Liberation Serif", serif' font-size="17" fill="#E9805C">−0.45</text>
<text transform="translate(247.95,2358.35) scale(1,1.12)" text-anchor="middle" font-family='"Liberation Serif", serif' font-size="17" fill="#E7F1F7">0.09</text>
<text transform="translate(301.45,2358.35) scale(1,1.12)" text-anchor="middle" font-family='"Liberation Serif", serif' font-size="17" fill="#DCEBF3">0.13</text>
<text transform="translate(352.75,2358.35) scale(1,1.12)" text-anchor="middle" font-family='"Liberation Serif", serif' font-size="17" fill="#F2956C">−0.40</text>
<text transform="translate(408.45,2358.35) scale(1,1.12)" text-anchor="middle" font-family='"Liberation Serif", serif' font-size="17" fill="#D1E5F0">0.17</text>
<text transform="translate(461.95,2358.35) scale(1,1.12)" text-anchor="middle" font-family='"Liberation Serif", serif' font-size="17" fill="#86BEDA">0.38</text>
<text transform="translate(515.45,2358.35) scale(1,1.12)" text-anchor="middle" font-family='"Liberation Serif", serif' font-size="17" fill="#9CCAE1">0.32</text>
<text transform="translate(568.95,2358.35) scale(1,1.12)" text-anchor="middle" font-family='"Liberation Serif", serif' font-size="17" fill="#98C8DF">0.33</text>
<text transform="translate(622.45,2358.35) scale(1,1.12)" text-anchor="middle" font-family='"Liberation Serif", serif' font-size="17" fill="#1F7DB7">0.61</text>
<text transform="translate(675.95,2358.35) scale(1,1.12)" text-anchor="middle" font-family='"Liberation Serif", serif' font-size="17" fill="#ABD1E5">0.28</text>
<text transform="translate(729.45,2358.35) scale(1,1.12)" text-anchor="middle" font-family='"Liberation Serif", serif' font-size="17" fill="#2F88BD">0.57</text>
<text transform="translate(138.75,2411.85) scale(1,1.12)" text-anchor="middle" font-family='"Liberation Serif", serif' font-size="17" fill="#F4A27C">−0.36</text>
<text transform="translate(192.25,2411.85) scale(1,1.12)" text-anchor="middle" font-family='"Liberation Serif", serif' font-size="17" fill="#E77C59">−0.46</text>
<text transform="translate(245.75,2411.85) scale(1,1.12)" text-anchor="middle" font-family='"Liberation Serif", serif' font-size="17" fill="#FDDDCA">−0.16</text>
<text transform="translate(301.45,2411.85) scale(1,1.12)" text-anchor="middle" font-family='"Liberation Serif", serif' font-size="17" fill="#FCFDFE">0.01</text>
<text transform="translate(352.75,2411.85) scale(1,1.12)" text-anchor="middle" font-family='"Liberation Serif", serif' font-size="17" fill="#CA3B29">−0.62</text>
<text transform="translate(408.45,2411.85) scale(1,1.12)" text-anchor="middle" font-family='"Liberation Serif", serif' font-size="17" fill="#F1F7FB">0.05</text>
<text transform="translate(461.95,2411.85) scale(1,1.12)" text-anchor="middle" font-family='"Liberation Serif", serif' font-size="17" fill="#86BEDA">0.38</text>
<text transform="translate(515.45,2411.85) scale(1,1.12)" text-anchor="middle" font-family='"Liberation Serif", serif' font-size="17" fill="#75B5D5">0.42</text>
<text transform="translate(568.95,2411.85) scale(1,1.12)" text-anchor="middle" font-family='"Liberation Serif", serif' font-size="17" fill="#4B9AC7">0.51</text>
<text transform="translate(622.45,2411.85) scale(1,1.12)" text-anchor="middle" font-family='"Liberation Serif", serif' font-size="17" fill="#3D91C2">0.54</text>
<text transform="translate(675.95,2411.85) scale(1,1.12)" text-anchor="middle" font-family='"Liberation Serif", serif' font-size="17" fill="#ECF4F9">0.07</text>
<text transform="translate(729.45,2411.85) scale(1,1.12)" text-anchor="middle" font-family='"Liberation Serif", serif' font-size="17" fill="#4697C5">0.52</text>
<text transform="translate(782.95,2411.85) scale(1,1.12)" text-anchor="middle" font-family='"Liberation Serif", serif' font-size="17" fill="#6CAFD2">0.44</text>
<text transform="translate(138.75,2465.35) scale(1,1.12)" text-anchor="middle" font-family='"Liberation Serif", serif' font-size="17" fill="#F6AE8C">−0.32</text>
<text transform="translate(192.25,2465.35) scale(1,1.12)" text-anchor="middle" font-family='"Liberation Serif", serif' font-size="17" fill="#F5A884">−0.34</text>
<text transform="translate(245.75,2465.35) scale(1,1.12)" text-anchor="middle" font-family='"Liberation Serif", serif' font-size="17" fill="#FEF4EE">−0.05</text>
<text transform="translate(299.25,2465.35) scale(1,1.12)" text-anchor="middle" font-family='"Liberation Serif", serif' font-size="17" fill="#FEF0E8">−0.07</text>
<text transform="translate(352.75,2465.35) scale(1,1.12)" text-anchor="middle" font-family='"Liberation Serif", serif' font-size="17" fill="#D7583D">−0.55</text>
<text transform="translate(408.45,2465.35) scale(1,1.12)" text-anchor="middle" font-family='"Liberation Serif", serif' font-size="17" fill="#BAD9E9">0.24</text>
<text transform="translate(461.95,2465.35) scale(1,1.12)" text-anchor="middle" font-family='"Liberation Serif", serif' font-size="17" fill="#C1DDEB">0.22</text>
<text transform="translate(515.45,2465.35) scale(1,1.12)" text-anchor="middle" font-family='"Liberation Serif", serif' font-size="17" fill="#59A3CB">0.48</text>
<text transform="translate(568.95,2465.35) scale(1,1.12)" text-anchor="middle" font-family='"Liberation Serif", serif' font-size="17" fill="#3D91C2">0.54</text>
<text transform="translate(622.45,2465.35) scale(1,1.12)" text-anchor="middle" font-family='"Liberation Serif", serif' font-size="17" fill="#388EC0">0.55</text>
<text transform="translate(675.95,2465.35) scale(1,1.12)" text-anchor="middle" font-family='"Liberation Serif", serif' font-size="17" fill="#E7F1F7">0.09</text>
<text transform="translate(729.45,2465.35) scale(1,1.12)" text-anchor="middle" font-family='"Liberation Serif", serif' font-size="17" fill="#509DC8">0.50</text>
<text transform="translate(782.95,2465.35) scale(1,1.12)" text-anchor="middle" font-family='"Liberation Serif", serif' font-size="17" fill="#2683BA">0.59</text>
<text transform="translate(836.45,2465.35) scale(1,1.12)" text-anchor="middle" font-family='"Liberation Serif", serif' font-size="17" fill="#54A0CA">0.49</text>
<path d="M112.00 1683.3V2485.80M112 1683.30H914.50M165.50 1683.3V2485.80M112 1736.80H914.50M219.00 1683.3V2485.80M112 1790.30H914.50M272.50 1683.3V2485.80M112 1843.80H914.50M326.00 1683.3V2485.80M112 1897.30H914.50M379.50 1683.3V2485.80M112 1950.80H914.50M433.00 1683.3V2485.80M112 2004.30H914.50M486.50 1683.3V2485.80M112 2057.80H914.50M540.00 1683.3V2485.80M112 2111.30H914.50M593.50 1683.3V2485.80M112 2164.80H914.50M647.00 1683.3V2485.80M112 2218.30H914.50M700.50 1683.3V2485.80M112 2271.80H914.50M754.00 1683.3V2485.80M112 2325.30H914.50M807.50 1683.3V2485.80M112 2378.80H914.50M861.00 1683.3V2485.80M112 2432.30H914.50M914.50 1683.3V2485.80M112 2485.80H914.50" stroke="#BEBEBE" stroke-width="2" fill="none"/>
<text x="90.7" y="1714.15" text-anchor="end" font-family='"Liberation Serif", serif' font-size="19.6" fill="#000">SNCA</text>
<text transform="translate(143.45,1679) rotate(-45)" font-family='"Liberation Serif", serif' font-size="19.6" fill="#000">SNCA</text>
<text x="90.7" y="1767.65" text-anchor="end" font-family='"Liberation Serif", serif' font-size="19.6" fill="#000">PLCE1</text>
<text transform="translate(196.95,1679) rotate(-45)" font-family='"Liberation Serif", serif' font-size="19.6" fill="#000">PLCE1</text>
<text x="90.7" y="1821.15" text-anchor="end" font-family='"Liberation Serif", serif' font-size="19.6" fill="#000">MAPK10</text>
<text transform="translate(250.45,1679) rotate(-45)" font-family='"Liberation Serif", serif' font-size="19.6" fill="#000">MAPK10</text>
<text x="90.7" y="1874.65" text-anchor="end" font-family='"Liberation Serif", serif' font-size="19.6" fill="#000">CXCL12</text>
<text transform="translate(303.95,1679) rotate(-45)" font-family='"Liberation Serif", serif' font-size="19.6" fill="#000">CXCL12</text>
<text x="90.7" y="1928.15" text-anchor="end" font-family='"Liberation Serif", serif' font-size="19.6" fill="#000">TPCN1</text>
<text transform="translate(357.45,1679) rotate(-45)" font-family='"Liberation Serif", serif' font-size="19.6" fill="#000">TPCN1</text>
<text x="90.7" y="1981.65" text-anchor="end" font-family='"Liberation Serif", serif' font-size="19.6" fill="#000">CXCR4</text>
<text transform="translate(410.95,1679) rotate(-45)" font-family='"Liberation Serif", serif' font-size="19.6" fill="#000">CXCR4</text>
<text x="90.7" y="2035.15" text-anchor="end" font-family='"Liberation Serif", serif' font-size="19.6" fill="#000">S1PR3</text>
<text transform="translate(464.45,1679) rotate(-45)" font-family='"Liberation Serif", serif' font-size="19.6" fill="#000">S1PR3</text>
<text x="90.7" y="2088.65" text-anchor="end" font-family='"Liberation Serif", serif' font-size="19.6" fill="#000">MAP2K1</text>
<text transform="translate(517.95,1679) rotate(-45)" font-family='"Liberation Serif", serif' font-size="19.6" fill="#000">MAP2K1</text>
<text x="90.7" y="2142.15" text-anchor="end" font-family='"Liberation Serif", serif' font-size="19.6" fill="#000">NAMPT</text>
<text transform="translate(571.45,1679) rotate(-45)" font-family='"Liberation Serif", serif' font-size="19.6" fill="#000">NAMPT</text>
<text x="90.7" y="2195.65" text-anchor="end" font-family='"Liberation Serif", serif' font-size="19.6" fill="#000">S100A9</text>
<text transform="translate(624.95,1679) rotate(-45)" font-family='"Liberation Serif", serif' font-size="19.6" fill="#000">S100A9</text>
<text x="90.7" y="2249.15" text-anchor="end" font-family='"Liberation Serif", serif' font-size="19.6" fill="#000">CD38</text>
<text transform="translate(678.45,1679) rotate(-45)" font-family='"Liberation Serif", serif' font-size="19.6" fill="#000">CD38</text>
<text x="90.7" y="2302.65" text-anchor="end" font-family='"Liberation Serif", serif' font-size="19.6" fill="#000">S100A8</text>
<text transform="translate(731.95,1679) rotate(-45)" font-family='"Liberation Serif", serif' font-size="19.6" fill="#000">S100A8</text>
<text x="90.7" y="2356.15" text-anchor="end" font-family='"Liberation Serif", serif' font-size="19.6" fill="#000">CYBB</text>
<text transform="translate(785.45,1679) rotate(-45)" font-family='"Liberation Serif", serif' font-size="19.6" fill="#000">CYBB</text>
<text x="90.7" y="2409.65" text-anchor="end" font-family='"Liberation Serif", serif' font-size="19.6" fill="#000">CCL2</text>
<text transform="translate(838.95,1679) rotate(-45)" font-family='"Liberation Serif", serif' font-size="19.6" fill="#000">CCL2</text>
<text x="90.7" y="2463.15" text-anchor="end" font-family='"Liberation Serif", serif' font-size="19.6" fill="#000">SPP1</text>
<text transform="translate(892.45,1679) rotate(-45)" font-family='"Liberation Serif", serif' font-size="19.6" fill="#000">SPP1</text>
<defs><linearGradient id="cb" x1="0" y1="0" x2="0" y2="1"><stop offset="0.00" stop-color="#082F5C"/><stop offset="0.05" stop-color="#174A81"/><stop offset="0.10" stop-color="#2665A5"/><stop offset="0.15" stop-color="#377BB2"/><stop offset="0.20" stop-color="#4892BE"/><stop offset="0.25" stop-color="#6FABCC"/><stop offset="0.30" stop-color="#95C4DB"/><stop offset="0.35" stop-color="#B4D4E5"/><stop offset="0.40" stop-color="#D2E5EF"/><stop offset="0.45" stop-color="#E9F2F7"/><stop offset="0.50" stop-color="#FFFFFF"/><stop offset="0.55" stop-color="#FDEDE4"/><stop offset="0.60" stop-color="#FBDCC9"/><stop offset="0.65" stop-color="#F5C1A8"/><stop offset="0.70" stop-color="#EFA786"/><stop offset="0.75" stop-color="#DF856C"/><stop offset="0.80" stop-color="#CF6351"/><stop offset="0.85" stop-color="#BC3F3F"/><stop offset="0.90" stop-color="#AA1C2D"/><stop offset="0.95" stop-color="#860F26"/><stop offset="1.00" stop-color="#62031F"/></linearGradient></defs>
<rect x="929.9" y="1683" width="28.3" height="802.5" fill="url(#cb)" stroke="#000" stroke-width="3"/>
<line x1="958.2" x2="965.7" y1="1683.00" y2="1683.00" stroke="#000" stroke-width="2.2"/>
<text x="995.5" y="1692.50" text-anchor="middle" font-family='"Liberation Serif", serif' font-size="27.5" fill="#000">1</text>
<line x1="958.2" x2="965.7" y1="1763.25" y2="1763.25" stroke="#000" stroke-width="2.2"/>
<text x="995.5" y="1772.75" text-anchor="middle" font-family='"Liberation Serif", serif' font-size="27.5" fill="#000">0.8</text>
<line x1="958.2" x2="965.7" y1="1843.50" y2="1843.50" stroke="#000" stroke-width="2.2"/>
<text x="995.5" y="1853.00" text-anchor="middle" font-family='"Liberation Serif", serif' font-size="27.5" fill="#000">0.6</text>
<line x1="958.2" x2="965.7" y1="1923.75" y2="1923.75" stroke="#000" stroke-width="2.2"/>
<text x="995.5" y="1933.25" text-anchor="middle" font-family='"Liberation Serif", serif' font-size="27.5" fill="#000">0.4</text>
<line x1="958.2" x2="965.7" y1="2004.00" y2="2004.00" stroke="#000" stroke-width="2.2"/>
<text x="995.5" y="2013.50" text-anchor="middle" font-family='"Liberation Serif", serif' font-size="27.5" fill="#000">0.2</text>
<line x1="958.2" x2="965.7" y1="2084.25" y2="2084.25" stroke="#000" stroke-width="2.2"/>
<text x="995.5" y="2093.75" text-anchor="middle" font-family='"Liberation Serif", serif' font-size="27.5" fill="#000">0</text>
<line x1="958.2" x2="965.7" y1="2164.50" y2="2164.50" stroke="#000" stroke-width="2.2"/>
<text x="995.5" y="2174.00" text-anchor="middle" font-family='"Liberation Serif", serif' font-size="27.5" fill="#000">−0.2</text>
<line x1="958.2" x2="965.7" y1="2244.75" y2="2244.75" stroke="#000" stroke-width="2.2"/>
<text x="995.5" y="2254.25" text-anchor="middle" font-family='"Liberation Serif", serif' font-size="27.5" fill="#000">−0.4</text>
<line x1="958.2" x2="965.7" y1="2325.00" y2="2325.00" stroke="#000" stroke-width="2.2"/>
<text x="995.5" y="2334.50" text-anchor="middle" font-family='"Liberation Serif", serif' font-size="27.5" fill="#000">−0.6</text>
<line x1="958.2" x2="965.7" y1="2405.25" y2="2405.25" stroke="#000" stroke-width="2.2"/>
<text x="995.5" y="2414.75" text-anchor="middle" font-family='"Liberation Serif", serif' font-size="27.5" fill="#000">−0.8</text>
<line x1="958.2" x2="965.7" y1="2485.50" y2="2485.50" stroke="#000" stroke-width="2.2"/>
<text x="995.5" y="2495.00" text-anchor="middle" font-family='"Liberation Serif", serif' font-size="27.5" fill="#000">−1</text>
</svg></body></html>
